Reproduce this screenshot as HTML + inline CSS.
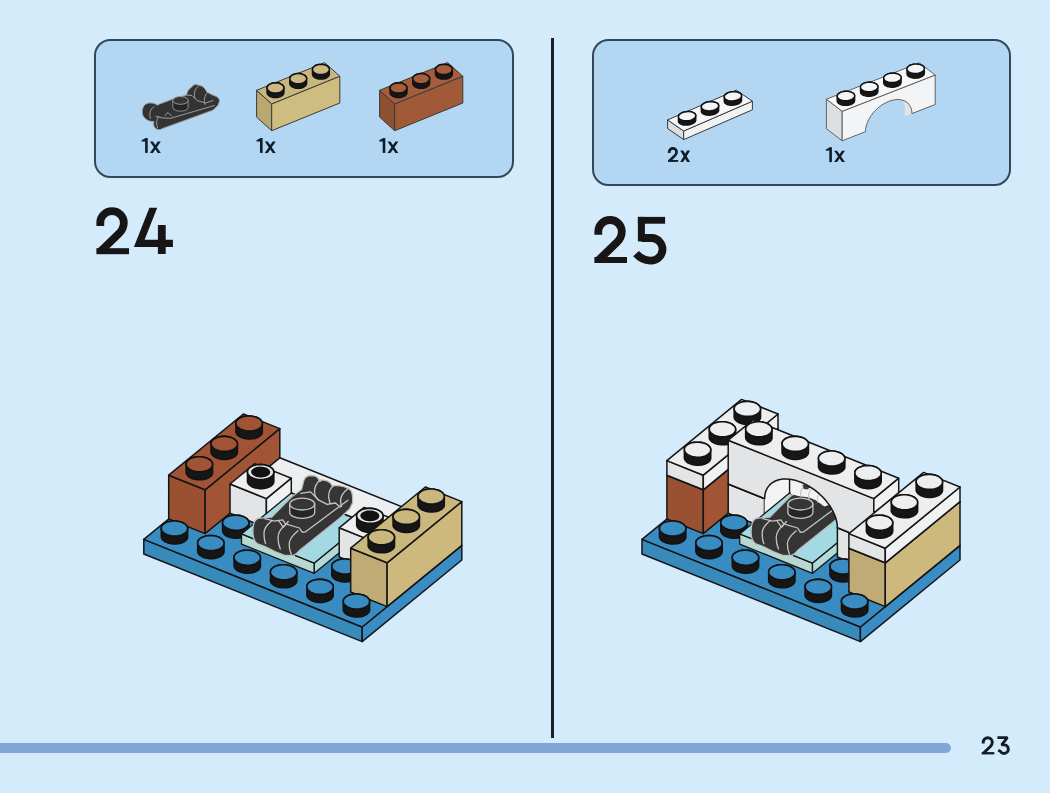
<!DOCTYPE html>
<html><head><meta charset="utf-8"><style>
html,body{margin:0;padding:0;}
body{width:1050px;height:793px;background:#d4ebfb;position:relative;overflow:hidden;font-family:"Liberation Sans",sans-serif;}
.panel{position:absolute;box-sizing:border-box;border:2.5px solid #33475a;border-radius:16.5px;background:#b3d6f2;}
.num{position:absolute;font-weight:bold;color:#1a1a1c;line-height:1;}
.q{position:absolute;font-weight:bold;color:#1c2530;font-size:17px;line-height:1;}
svg{position:absolute;left:0;top:0;}
</style></head><body>
<div class="panel" style="left:94px;top:38.5px;width:420px;height:139px"></div>
<div class="panel" style="left:591.5px;top:38.5px;width:419.5px;height:147.2px"></div>
<div style="position:absolute;left:551px;top:38px;width:2.5px;height:700px;background:#1b1f27"></div>
<div style="position:absolute;left:-10px;top:743px;width:961px;height:10px;border-radius:5px;background:#82a5d7"></div>
<svg width="1050" height="793" viewBox="0 0 1050 793">
<polygon points="256.6,117.1 271.7,130.7 271.7,103.9 256.6,90.3" fill="#b9a971" stroke="#3a3a3a" stroke-width="1.00" stroke-linejoin="round" />
<polygon points="271.7,130.7 339.8,103.0 339.8,76.2 271.7,103.9" fill="#cfbc80" stroke="#3a3a3a" stroke-width="1.00" stroke-linejoin="round" />
<polygon points="256.6,90.3 271.7,103.9 339.8,76.2 324.7,62.6" fill="#cab77f" stroke="#3a3a3a" stroke-width="1.00" stroke-linejoin="round" />
<polygon points="312.5,69.8 312.5,69.0 312.8,68.1 313.3,67.2 314.1,66.5 315.1,65.8 316.2,65.3 317.5,64.8 318.9,64.5 320.4,64.4 321.8,64.4 323.3,64.6 324.7,64.9 325.9,65.3 327.0,65.9 327.9,66.6 328.6,67.4 329.1,68.2 329.3,69.1 329.3,73.7 329.3,74.5 329.0,75.4 328.5,76.2 327.7,77.0 326.7,77.7 325.6,78.2 324.3,78.7 322.9,79.0 321.4,79.1 320.0,79.1 318.5,78.9 317.1,78.6 315.9,78.2 314.8,77.6 313.9,76.9 313.2,76.1 312.7,75.3 312.5,74.4" fill="#161616" stroke="#121212" stroke-width="1.50" stroke-linejoin="round" />
<polygon points="325.6,73.7 326.7,73.1 327.7,72.5 328.5,71.7 329.0,70.9 329.3,70.0 329.3,69.1 329.1,68.2 328.6,67.4 327.9,66.6 327.0,65.9 325.9,65.3 324.7,64.9 323.3,64.6 321.8,64.4 320.4,64.4 318.9,64.5 317.5,64.8 316.2,65.3 315.1,65.8 314.1,66.5 313.3,67.2 312.8,68.1 312.5,69.0 312.5,69.8 312.7,70.7 313.2,71.6 313.9,72.3 314.8,73.0 315.9,73.6 317.1,74.1 318.5,74.4 320.0,74.5 321.4,74.6 322.9,74.4 324.3,74.1" fill="#cdba82" stroke="#121212" stroke-width="1.50" stroke-linejoin="round" />
<polygon points="289.8,79.1 289.8,78.2 290.1,77.3 290.6,76.5 291.4,75.7 292.4,75.0 293.5,74.5 294.8,74.1 296.2,73.8 297.7,73.6 299.1,73.6 300.6,73.8 302.0,74.1 303.2,74.6 304.3,75.1 305.2,75.8 305.9,76.6 306.4,77.5 306.6,78.3 306.6,82.9 306.6,83.8 306.3,84.6 305.8,85.5 305.0,86.2 304.0,86.9 302.9,87.5 301.6,87.9 300.2,88.2 298.7,88.3 297.3,88.3 295.8,88.2 294.4,87.8 293.2,87.4 292.1,86.8 291.2,86.1 290.5,85.3 290.0,84.5 289.8,83.6" fill="#161616" stroke="#121212" stroke-width="1.50" stroke-linejoin="round" />
<polygon points="302.9,82.9 304.0,82.4 305.0,81.7 305.8,80.9 306.3,80.1 306.6,79.2 306.6,78.3 306.4,77.5 305.9,76.6 305.2,75.8 304.3,75.1 303.2,74.6 302.0,74.1 300.6,73.8 299.1,73.6 297.7,73.6 296.2,73.8 294.8,74.1 293.5,74.5 292.4,75.0 291.4,75.7 290.6,76.5 290.1,77.3 289.8,78.2 289.8,79.1 290.0,79.9 290.5,80.8 291.2,81.6 292.1,82.2 293.2,82.8 294.4,83.3 295.8,83.6 297.3,83.8 298.7,83.8 300.2,83.6 301.6,83.3" fill="#cdba82" stroke="#121212" stroke-width="1.50" stroke-linejoin="round" />
<polygon points="267.1,88.3 267.1,87.4 267.4,86.5 267.9,85.7 268.7,84.9 269.7,84.3 270.8,83.7 272.1,83.3 273.5,83.0 275.0,82.8 276.4,82.9 277.9,83.0 279.3,83.3 280.5,83.8 281.6,84.4 282.5,85.1 283.2,85.8 283.7,86.7 283.9,87.6 283.9,92.1 283.9,93.0 283.6,93.9 283.1,94.7 282.3,95.5 281.3,96.1 280.2,96.7 278.9,97.1 277.5,97.4 276.0,97.6 274.6,97.6 273.1,97.4 271.7,97.1 270.5,96.6 269.4,96.0 268.5,95.3 267.8,94.6 267.3,93.7 267.1,92.9" fill="#161616" stroke="#121212" stroke-width="1.50" stroke-linejoin="round" />
<polygon points="280.2,92.1 281.3,91.6 282.3,90.9 283.1,90.1 283.6,89.3 283.9,88.4 283.9,87.6 283.7,86.7 283.2,85.8 282.5,85.1 281.6,84.4 280.5,83.8 279.3,83.3 277.9,83.0 276.4,82.9 275.0,82.8 273.5,83.0 272.1,83.3 270.8,83.7 269.7,84.3 268.7,84.9 267.9,85.7 267.4,86.5 267.1,87.4 267.1,88.3 267.3,89.2 267.8,90.0 268.5,90.8 269.4,91.5 270.5,92.1 271.7,92.5 273.1,92.8 274.6,93.0 276.0,93.0 277.5,92.9 278.9,92.6" fill="#cdba82" stroke="#121212" stroke-width="1.50" stroke-linejoin="round" />
<polygon points="379.6,117.1 394.7,130.7 394.7,103.9 379.6,90.3" fill="#8f4f31" stroke="#3a3a3a" stroke-width="1.00" stroke-linejoin="round" />
<polygon points="394.7,130.7 462.8,103.0 462.8,76.2 394.7,103.9" fill="#a05a37" stroke="#3a3a3a" stroke-width="1.00" stroke-linejoin="round" />
<polygon points="379.6,90.3 394.7,103.9 462.8,76.2 447.7,62.6" fill="#a55d3b" stroke="#3a3a3a" stroke-width="1.00" stroke-linejoin="round" />
<polygon points="435.5,69.8 435.5,69.0 435.8,68.1 436.3,67.2 437.1,66.5 438.1,65.8 439.2,65.3 440.5,64.8 441.9,64.5 443.4,64.4 444.8,64.4 446.3,64.6 447.7,64.9 448.9,65.3 450.0,65.9 450.9,66.6 451.6,67.4 452.1,68.2 452.3,69.1 452.3,73.7 452.3,74.5 452.0,75.4 451.5,76.2 450.7,77.0 449.7,77.7 448.6,78.2 447.3,78.7 445.9,79.0 444.4,79.1 443.0,79.1 441.5,78.9 440.1,78.6 438.9,78.2 437.8,77.6 436.9,76.9 436.2,76.1 435.7,75.3 435.5,74.4" fill="#161616" stroke="#121212" stroke-width="1.50" stroke-linejoin="round" />
<polygon points="448.6,73.7 449.7,73.1 450.7,72.5 451.5,71.7 452.0,70.9 452.3,70.0 452.3,69.1 452.1,68.2 451.6,67.4 450.9,66.6 450.0,65.9 448.9,65.3 447.7,64.9 446.3,64.6 444.8,64.4 443.4,64.4 441.9,64.5 440.5,64.8 439.2,65.3 438.1,65.8 437.1,66.5 436.3,67.2 435.8,68.1 435.5,69.0 435.5,69.8 435.7,70.7 436.2,71.6 436.9,72.3 437.8,73.0 438.9,73.6 440.1,74.1 441.5,74.4 443.0,74.5 444.4,74.6 445.9,74.4 447.3,74.1" fill="#a55d3b" stroke="#121212" stroke-width="1.50" stroke-linejoin="round" />
<polygon points="412.8,79.1 412.8,78.2 413.1,77.3 413.6,76.5 414.4,75.7 415.4,75.0 416.5,74.5 417.8,74.1 419.2,73.8 420.7,73.6 422.1,73.6 423.6,73.8 425.0,74.1 426.2,74.6 427.3,75.1 428.2,75.8 428.9,76.6 429.4,77.5 429.6,78.3 429.6,82.9 429.6,83.8 429.3,84.6 428.8,85.5 428.0,86.2 427.0,86.9 425.9,87.5 424.6,87.9 423.2,88.2 421.7,88.3 420.3,88.3 418.8,88.2 417.4,87.8 416.2,87.4 415.1,86.8 414.2,86.1 413.5,85.3 413.0,84.5 412.8,83.6" fill="#161616" stroke="#121212" stroke-width="1.50" stroke-linejoin="round" />
<polygon points="425.9,82.9 427.0,82.4 428.0,81.7 428.8,80.9 429.3,80.1 429.6,79.2 429.6,78.3 429.4,77.5 428.9,76.6 428.2,75.8 427.3,75.1 426.2,74.6 425.0,74.1 423.6,73.8 422.1,73.6 420.7,73.6 419.2,73.8 417.8,74.1 416.5,74.5 415.4,75.0 414.4,75.7 413.6,76.5 413.1,77.3 412.8,78.2 412.8,79.1 413.0,79.9 413.5,80.8 414.2,81.6 415.1,82.2 416.2,82.8 417.4,83.3 418.8,83.6 420.3,83.8 421.7,83.8 423.2,83.6 424.6,83.3" fill="#a55d3b" stroke="#121212" stroke-width="1.50" stroke-linejoin="round" />
<polygon points="390.1,88.3 390.1,87.4 390.4,86.5 390.9,85.7 391.7,84.9 392.7,84.3 393.8,83.7 395.1,83.3 396.5,83.0 398.0,82.8 399.4,82.9 400.9,83.0 402.3,83.3 403.5,83.8 404.6,84.4 405.5,85.1 406.2,85.8 406.7,86.7 406.9,87.6 406.9,92.1 406.9,93.0 406.6,93.9 406.1,94.7 405.3,95.5 404.3,96.1 403.2,96.7 401.9,97.1 400.5,97.4 399.0,97.6 397.6,97.6 396.1,97.4 394.7,97.1 393.5,96.6 392.4,96.0 391.5,95.3 390.8,94.6 390.3,93.7 390.1,92.9" fill="#161616" stroke="#121212" stroke-width="1.50" stroke-linejoin="round" />
<polygon points="403.2,92.1 404.3,91.6 405.3,90.9 406.1,90.1 406.6,89.3 406.9,88.4 406.9,87.6 406.7,86.7 406.2,85.8 405.5,85.1 404.6,84.4 403.5,83.8 402.3,83.3 400.9,83.0 399.4,82.9 398.0,82.8 396.5,83.0 395.1,83.3 393.8,83.7 392.7,84.3 391.7,84.9 390.9,85.7 390.4,86.5 390.1,87.4 390.1,88.3 390.3,89.2 390.8,90.0 391.5,90.8 392.4,91.5 393.5,92.1 394.7,92.5 396.1,92.8 397.6,93.0 399.0,93.0 400.5,92.9 401.9,92.6" fill="#a55d3b" stroke="#121212" stroke-width="1.50" stroke-linejoin="round" />
<polygon points="667.6,128.5 683.7,139.6 683.7,131.0 667.6,119.9" fill="#dcdfe2" stroke="#3a3a3a" stroke-width="1.00" stroke-linejoin="round" />
<polygon points="683.7,139.6 752.4,109.8 752.4,101.2 683.7,131.0" fill="#f1f2f4" stroke="#3a3a3a" stroke-width="1.00" stroke-linejoin="round" />
<polygon points="667.6,119.9 683.7,131.0 752.4,101.2 736.3,90.1" fill="#f6f7f9" stroke="#3a3a3a" stroke-width="1.00" stroke-linejoin="round" />
<polygon points="724.3,96.5 724.5,95.7 725.0,94.9 725.8,94.1 726.8,93.5 727.9,92.9 729.2,92.4 730.6,92.0 732.1,91.8 733.6,91.7 735.1,91.8 736.6,91.9 737.9,92.3 739.0,92.7 740.0,93.2 740.8,93.9 741.3,94.6 741.5,95.4 741.5,96.2 741.5,100.5 741.3,101.3 740.8,102.1 740.0,102.8 739.0,103.5 737.9,104.1 736.6,104.5 735.2,104.9 733.7,105.1 732.2,105.2 730.7,105.2 729.2,105.0 727.9,104.7 726.8,104.3 725.8,103.7 725.0,103.1 724.5,102.3 724.3,101.6 724.3,100.8" fill="#161616" stroke="#121212" stroke-width="1.50" stroke-linejoin="round" />
<polygon points="737.9,99.8 739.0,99.2 740.0,98.5 740.8,97.8 741.3,97.0 741.5,96.2 741.5,95.4 741.3,94.6 740.8,93.9 740.0,93.2 739.0,92.7 737.9,92.3 736.6,91.9 735.1,91.8 733.6,91.7 732.1,91.8 730.6,92.0 729.2,92.4 727.9,92.9 726.8,93.5 725.8,94.1 725.0,94.9 724.5,95.7 724.3,96.5 724.3,97.3 724.5,98.0 725.0,98.8 725.8,99.4 726.8,100.0 727.9,100.4 729.2,100.7 730.7,100.9 732.2,100.9 733.7,100.8 735.2,100.6 736.6,100.2" fill="#f4f5f7" stroke="#121212" stroke-width="1.50" stroke-linejoin="round" />
<polygon points="701.4,106.4 701.6,105.6 702.1,104.8 702.9,104.1 703.9,103.4 705.0,102.8 706.3,102.3 707.7,102.0 709.2,101.7 710.7,101.6 712.2,101.7 713.7,101.9 715.0,102.2 716.1,102.6 717.1,103.2 717.9,103.8 718.4,104.5 718.6,105.3 718.6,106.1 718.6,110.4 718.4,111.2 717.9,112.0 717.1,112.7 716.1,113.4 715.0,114.0 713.7,114.5 712.3,114.8 710.8,115.1 709.3,115.2 707.8,115.1 706.3,114.9 705.0,114.6 703.9,114.2 702.9,113.6 702.1,113.0 701.6,112.3 701.4,111.5 701.4,110.7" fill="#161616" stroke="#121212" stroke-width="1.50" stroke-linejoin="round" />
<polygon points="715.0,109.7 716.1,109.1 717.1,108.4 717.9,107.7 718.4,106.9 718.6,106.1 718.6,105.3 718.4,104.5 717.9,103.8 717.1,103.2 716.1,102.6 715.0,102.2 713.7,101.9 712.2,101.7 710.7,101.6 709.2,101.7 707.7,102.0 706.3,102.3 705.0,102.8 703.9,103.4 702.9,104.1 702.1,104.8 701.6,105.6 701.4,106.4 701.4,107.2 701.6,108.0 702.1,108.7 702.9,109.3 703.9,109.9 705.0,110.3 706.3,110.6 707.8,110.8 709.3,110.9 710.8,110.8 712.3,110.5 713.7,110.2" fill="#f4f5f7" stroke="#121212" stroke-width="1.50" stroke-linejoin="round" />
<polygon points="678.5,116.3 678.7,115.5 679.2,114.7 680.0,114.0 681.0,113.3 682.1,112.7 683.4,112.3 684.8,111.9 686.3,111.7 687.8,111.6 689.3,111.6 690.8,111.8 692.1,112.1 693.2,112.6 694.2,113.1 695.0,113.8 695.5,114.5 695.7,115.2 695.7,116.0 695.7,120.3 695.5,121.1 695.0,121.9 694.2,122.7 693.2,123.3 692.1,123.9 690.8,124.4 689.4,124.8 687.9,125.0 686.4,125.1 684.9,125.1 683.4,124.9 682.1,124.6 681.0,124.1 680.0,123.6 679.2,122.9 678.7,122.2 678.5,121.4 678.5,120.6" fill="#161616" stroke="#121212" stroke-width="1.50" stroke-linejoin="round" />
<polygon points="692.1,119.6 693.2,119.0 694.2,118.4 695.0,117.6 695.5,116.8 695.7,116.0 695.7,115.2 695.5,114.5 695.0,113.8 694.2,113.1 693.2,112.6 692.1,112.1 690.8,111.8 689.3,111.6 687.8,111.6 686.3,111.7 684.8,111.9 683.4,112.3 682.1,112.7 681.0,113.3 680.0,114.0 679.2,114.7 678.7,115.5 678.5,116.3 678.5,117.1 678.7,117.9 679.2,118.6 680.0,119.3 681.0,119.8 682.1,120.3 683.4,120.6 684.9,120.8 686.4,120.8 687.9,120.7 689.4,120.5 690.8,120.1" fill="#f4f5f7" stroke="#121212" stroke-width="1.50" stroke-linejoin="round" />
<path d="M142.3,112 C142.3,106.5 145,103.2 150,102.9 C153.5,102.9 156,104 157.5,105.3 L159,104.3 L172,99.4 L186.6,95 C187,92 188.5,89.5 190.6,88.1 C192.5,85.5 194.5,84.5 196.3,84.5 L202.8,86.5 C204.5,88 205.8,90 206.8,92.1 L210.9,94.2 L217.3,97 C219,98.5 219.6,100 219.4,101 L218.1,105.1 L213.3,110 L162.3,128.6 C160.5,130 157.5,130 155.5,128.3 C153.5,126.5 153.3,124 154,121.5 L150.5,121.2 C146,120 142.3,117 142.3,112 Z" fill="#333334" stroke="#9a9a9a" stroke-width="0.9" stroke-linejoin="round"/>
<path d="M154,106.7 C150,109 149,114 150.3,118.3" fill="none" stroke="#a8a8a8" stroke-width="0.9" stroke-linecap="round"/>
<path d="M158.7,116.5 C156.5,118.5 156,124 157.7,127.7" fill="none" stroke="#a8a8a8" stroke-width="0.9" stroke-linecap="round"/>
<path d="M156,116.5 L163,118 L170.5,118.3 L214.5,105.5" fill="none" stroke="#a8a8a8" stroke-width="0.9" stroke-linecap="round"/>
<path d="M165,115.5 L168,112.5 L171.5,116" fill="none" stroke="#a8a8a8" stroke-width="0.9" stroke-linecap="round"/>
<path d="M198,86.5 C194.5,89 193.5,94 195,98.5" fill="none" stroke="#a8a8a8" stroke-width="0.9" stroke-linecap="round"/>
<path d="M207.5,92.6 C204.5,95.5 203.5,100 205,104.5" fill="none" stroke="#a8a8a8" stroke-width="0.9" stroke-linecap="round"/>
<path d="M186.6,95 L192,95.5 L197,100.5 L205.5,103 L213,100.5" fill="none" stroke="#a8a8a8" stroke-width="0.9" stroke-linecap="round"/>
<path d="M172.8,100.4 L172.8,107.3 A7.7,3.9 0 0 0 188.2,107.3 L188.2,100.4 Z" fill="#262627" stroke="#9a9a9a" stroke-width="0.9"/>
<ellipse cx="180.5" cy="100.4" rx="7.7" ry="3.9" fill="#353536" stroke="#a0a0a0" stroke-width="0.9"/>
<defs><clipPath id="archclip"><polygon points="865.4,131.7 865.6,129.5 866.0,127.1 866.6,124.7 867.5,122.3 868.6,119.9 869.9,117.5 871.4,115.2 873.1,112.9 875.0,110.8 877.1,108.8 879.2,106.9 881.5,105.2 883.9,103.8 886.3,102.5 888.7,101.4 891.1,100.6 893.5,100.0 895.9,99.6 898.2,99.5 900.3,99.7 902.4,100.1 904.3,100.8 906.0,101.7 907.5,102.8 908.8,104.2 909.9,105.7 910.8,107.4 911.4,109.3 911.8,111.4 911.9,113.6"/></clipPath></defs>
<polygon points="865.4,131.7 865.6,129.5 866.0,127.1 866.6,124.7 867.5,122.3 868.6,119.9 869.9,117.5 871.4,115.2 873.1,112.9 875.0,110.8 877.1,108.8 879.2,106.9 881.5,105.2 883.9,103.8 886.3,102.5 888.7,101.4 891.1,100.6 893.5,100.0 895.9,99.6 898.2,99.5 900.3,99.7 902.4,100.1 904.3,100.8 906.0,101.7 907.5,102.8 908.8,104.2 909.9,105.7 910.8,107.4 911.4,109.3 911.8,111.4 911.9,113.6" fill="#e4e4e4" clip-path="url(#archclip)"/>
<polygon points="858.3,126.3 858.5,124.0 858.8,121.7 859.5,119.3 860.4,116.9 861.5,114.4 862.8,112.1 864.3,109.7 866.0,107.5 867.9,105.3 870.0,103.3 872.1,101.5 874.4,99.8 876.8,98.3 879.2,97.0 881.6,96.0 884.0,95.1 886.4,94.5 888.8,94.2 891.0,94.1 893.2,94.3 895.3,94.7 897.1,95.3 898.9,96.2 900.4,97.4 901.7,98.7 902.8,100.3 903.7,102.0 904.3,103.9 904.7,105.9 904.8,108.1 904.8,167.1 858.3,185.3" fill="#b3d6f2" clip-path="url(#archclip)"/>
<polygon points="826.4,128.7 842.2,140.8 842.2,111.3 826.4,99.2" fill="#dcdfe2" stroke="#555" stroke-width="0.90" stroke-linejoin="round" />
<polygon points="842.2,140.8 865.4,131.7 865.4,131.7 865.6,129.5 866.0,127.1 866.6,124.7 867.5,122.3 868.6,119.9 869.9,117.5 871.4,115.2 873.1,112.9 875.0,110.8 877.1,108.8 879.2,106.9 881.5,105.2 883.9,103.8 886.3,102.5 888.7,101.4 891.1,100.6 893.5,100.0 895.9,99.6 898.2,99.5 900.3,99.7 902.4,100.1 904.3,100.8 906.0,101.7 907.5,102.8 908.8,104.2 909.9,105.7 910.8,107.4 911.4,109.3 911.8,111.4 911.9,113.6 911.9,113.6 935.2,104.5 935.2,75.0 842.2,111.3" fill="#f3f4f6" stroke="#555" stroke-width="0.90" stroke-linejoin="round" />
<polygon points="826.4,99.2 842.2,111.3 935.2,75.0 919.4,62.9" fill="#f6f7f9" stroke="#555" stroke-width="0.90" stroke-linejoin="round" />
<polygon points="907.0,69.3 907.0,68.5 907.3,67.7 907.8,66.9 908.6,66.2 909.6,65.5 910.8,65.0 912.1,64.6 913.5,64.3 915.0,64.1 916.6,64.1 918.0,64.2 919.5,64.4 920.8,64.8 921.9,65.3 922.9,65.9 923.6,66.6 924.1,67.4 924.4,68.2 924.4,72.9 924.3,73.7 924.1,74.5 923.5,75.3 922.7,76.0 921.8,76.7 920.6,77.2 919.2,77.7 917.8,78.0 916.3,78.1 914.8,78.2 913.3,78.0 911.9,77.8 910.6,77.4 909.4,76.9 908.5,76.3 907.7,75.6 907.2,74.8 907.0,74.0" fill="#161616" stroke="#121212" stroke-width="1.40" stroke-linejoin="round" />
<polygon points="920.6,72.5 921.8,72.0 922.7,71.3 923.5,70.6 924.1,69.8 924.3,69.0 924.4,68.2 924.1,67.4 923.6,66.6 922.9,65.9 921.9,65.3 920.8,64.8 919.5,64.4 918.0,64.2 916.6,64.1 915.0,64.1 913.5,64.3 912.1,64.6 910.8,65.0 909.6,65.5 908.6,66.2 907.8,66.9 907.3,67.7 907.0,68.5 907.0,69.3 907.2,70.1 907.7,70.9 908.5,71.6 909.4,72.2 910.6,72.7 911.9,73.1 913.3,73.3 914.8,73.4 916.3,73.4 917.8,73.2 919.2,72.9" fill="#f4f5f7" stroke="#121212" stroke-width="1.40" stroke-linejoin="round" />
<polygon points="883.7,78.4 883.8,77.6 884.0,76.8 884.6,76.0 885.4,75.3 886.3,74.6 887.5,74.1 888.9,73.6 890.3,73.3 891.8,73.2 893.3,73.1 894.8,73.3 896.2,73.5 897.5,73.9 898.7,74.4 899.6,75.0 900.4,75.7 900.9,76.5 901.1,77.3 901.1,82.0 901.1,82.8 900.8,83.6 900.3,84.4 899.5,85.1 898.5,85.8 897.3,86.3 896.0,86.7 894.6,87.0 893.1,87.2 891.5,87.2 890.1,87.1 888.6,86.9 887.3,86.5 886.2,86.0 885.2,85.4 884.5,84.7 884.0,83.9 883.7,83.1" fill="#161616" stroke="#121212" stroke-width="1.40" stroke-linejoin="round" />
<polygon points="897.3,81.6 898.5,81.0 899.5,80.4 900.3,79.7 900.8,78.9 901.1,78.1 901.1,77.3 900.9,76.5 900.4,75.7 899.6,75.0 898.7,74.4 897.5,73.9 896.2,73.5 894.8,73.3 893.3,73.1 891.8,73.2 890.3,73.3 888.9,73.6 887.5,74.1 886.3,74.6 885.4,75.3 884.6,76.0 884.0,76.8 883.8,77.6 883.7,78.4 884.0,79.2 884.5,80.0 885.2,80.6 886.2,81.3 887.3,81.8 888.6,82.1 890.1,82.4 891.5,82.5 893.1,82.5 894.6,82.3 896.0,82.0" fill="#f4f5f7" stroke="#121212" stroke-width="1.40" stroke-linejoin="round" />
<polygon points="860.5,87.5 860.5,86.7 860.8,85.8 861.3,85.1 862.1,84.3 863.1,83.7 864.3,83.2 865.6,82.7 867.0,82.4 868.5,82.3 870.1,82.2 871.5,82.3 873.0,82.6 874.3,83.0 875.4,83.5 876.4,84.1 877.1,84.8 877.6,85.5 877.9,86.3 877.9,91.1 877.8,91.9 877.6,92.7 877.0,93.5 876.2,94.2 875.3,94.8 874.1,95.4 872.7,95.8 871.3,96.1 869.8,96.3 868.3,96.3 866.8,96.2 865.4,95.9 864.1,95.6 862.9,95.1 862.0,94.4 861.2,93.8 860.7,93.0 860.5,92.2" fill="#161616" stroke="#121212" stroke-width="1.40" stroke-linejoin="round" />
<polygon points="874.1,90.7 875.3,90.1 876.2,89.5 877.0,88.8 877.6,88.0 877.8,87.2 877.9,86.3 877.6,85.5 877.1,84.8 876.4,84.1 875.4,83.5 874.3,83.0 873.0,82.6 871.5,82.3 870.1,82.2 868.5,82.3 867.0,82.4 865.6,82.7 864.3,83.2 863.1,83.7 862.1,84.3 861.3,85.1 860.8,85.8 860.5,86.7 860.5,87.5 860.7,88.3 861.2,89.0 862.0,89.7 862.9,90.3 864.1,90.8 865.4,91.2 866.8,91.5 868.3,91.6 869.8,91.6 871.3,91.4 872.7,91.1" fill="#f4f5f7" stroke="#121212" stroke-width="1.40" stroke-linejoin="round" />
<polygon points="837.2,96.6 837.3,95.7 837.5,94.9 838.1,94.1 838.9,93.4 839.8,92.8 841.0,92.2 842.4,91.8 843.8,91.5 845.3,91.3 846.8,91.3 848.3,91.4 849.7,91.7 851.0,92.1 852.2,92.6 853.1,93.2 853.9,93.9 854.4,94.6 854.6,95.4 854.6,100.1 854.6,101.0 854.3,101.8 853.8,102.6 853.0,103.3 852.0,103.9 850.8,104.5 849.5,104.9 848.1,105.2 846.6,105.4 845.0,105.4 843.6,105.3 842.1,105.0 840.8,104.6 839.7,104.1 838.7,103.5 838.0,102.8 837.5,102.1 837.2,101.3" fill="#161616" stroke="#121212" stroke-width="1.40" stroke-linejoin="round" />
<polygon points="850.8,99.7 852.0,99.2 853.0,98.6 853.8,97.8 854.3,97.1 854.6,96.2 854.6,95.4 854.4,94.6 853.9,93.9 853.1,93.2 852.2,92.6 851.0,92.1 849.7,91.7 848.3,91.4 846.8,91.3 845.3,91.3 843.8,91.5 842.4,91.8 841.0,92.2 839.8,92.8 838.9,93.4 838.1,94.1 837.5,94.9 837.3,95.7 837.2,96.6 837.5,97.4 838.0,98.1 838.7,98.8 839.7,99.4 840.8,99.9 842.1,100.3 843.6,100.6 845.0,100.7 846.6,100.6 848.1,100.5 849.5,100.2" fill="#f4f5f7" stroke="#121212" stroke-width="1.40" stroke-linejoin="round" />
<g transform="translate(96.40,207.30) scale(1.0000) translate(-96.4,-207.3)"><path d="M100.3,225.9 L100.3,222.7 A11.75,11.5 0 0 1 123.8,222.7 C123.8,227 122,230.5 119,233.5 L100.6,251.2" fill="none" stroke="#171516" stroke-width="7.80"/><rect x="96.4" y="248.2" width="32.6" height="6" fill="#171516"/></g><polygon points="149.4,207.8 157.2,207.8 144.6,239.8 157.9,239.8 157.9,225.1 165.7,225.1 165.7,239.8 172.9,239.8 172.9,247 165.7,247 165.7,253.9 157.9,253.9 157.9,247 133.9,247" fill="#171516"/><g transform="translate(594.40,216.10) scale(1.0000) translate(-96.4,-207.3)"><path d="M100.3,225.9 L100.3,222.7 A11.75,11.5 0 0 1 123.8,222.7 C123.8,227 122,230.5 119,233.5 L100.6,251.2" fill="none" stroke="#171516" stroke-width="7.80"/><rect x="96.4" y="248.2" width="32.6" height="6" fill="#171516"/></g><rect x="637.9" y="216.9" width="27.2" height="6.8" fill="#171516"/><rect x="637.9" y="216.9" width="7" height="24.5" fill="#171516"/><path d="M641.4,238 L652.25,238 A11.35,11.35 0 1 1 650,260.6 C645,260.4 640,258 636,253.6" fill="none" stroke="#171516" stroke-width="7.8"/><g transform="translate(981.70,736.30) scale(0.3860) translate(-96.4,-207.3)"><path d="M100.3,225.9 L100.3,222.7 A11.75,11.5 0 0 1 123.8,222.7 C123.8,227 122,230.5 119,233.5 L100.6,251.2" fill="none" stroke="#121b26" stroke-width="7.60"/><rect x="96.4" y="248.2" width="32.6" height="6" fill="#121b26"/></g><path d="M997.4,737.7 L1007.4,737.7 L1001.6,744.8 L1004,744.8 A4.3,4.3 0 1 1 1000.3,751.25 L998.2,750.2" fill="none" stroke="#121b26" stroke-width="2.8" stroke-linejoin="bevel"/>
<g transform="translate(0.0,0.0)"><rect x="145.1" y="138.2" width="2.6" height="14.7" fill="#0f1c2a"/><polygon points="145.3,138.2 147.7,138.2 145.6,141.4 141.6,141.6 141.6,140.3" fill="#0f1c2a"/><polygon points="149.9,141.6 152.9,141.6 160.8,152.9 157.8,152.9" fill="#0f1c2a"/><polygon points="157.8,141.6 160.8,141.6 152.9,152.9 149.9,152.9" fill="#0f1c2a"/></g><g transform="translate(114.9,0.0)"><rect x="145.1" y="138.2" width="2.6" height="14.7" fill="#0f1c2a"/><polygon points="145.3,138.2 147.7,138.2 145.6,141.4 141.6,141.6 141.6,140.3" fill="#0f1c2a"/><polygon points="149.9,141.6 152.9,141.6 160.8,152.9 157.8,152.9" fill="#0f1c2a"/><polygon points="157.8,141.6 160.8,141.6 152.9,152.9 149.9,152.9" fill="#0f1c2a"/></g><g transform="translate(237.6,0.0)"><rect x="145.1" y="138.2" width="2.6" height="14.7" fill="#0f1c2a"/><polygon points="145.3,138.2 147.7,138.2 145.6,141.4 141.6,141.6 141.6,140.3" fill="#0f1c2a"/><polygon points="149.9,141.6 152.9,141.6 160.8,152.9 157.8,152.9" fill="#0f1c2a"/><polygon points="157.8,141.6 160.8,141.6 152.9,152.9 149.9,152.9" fill="#0f1c2a"/></g><g transform="translate(684.2,9.2)"><rect x="145.1" y="138.2" width="2.6" height="14.7" fill="#0f1c2a"/><polygon points="145.3,138.2 147.7,138.2 145.6,141.4 141.6,141.6 141.6,140.3" fill="#0f1c2a"/><polygon points="149.9,141.6 152.9,141.6 160.8,152.9 157.8,152.9" fill="#0f1c2a"/><polygon points="157.8,141.6 160.8,141.6 152.9,152.9 149.9,152.9" fill="#0f1c2a"/></g><g transform="translate(668.00,147.20) scale(0.3130) translate(-96.4,-207.3)"><path d="M100.3,225.9 L100.3,222.7 A11.75,11.5 0 0 1 123.8,222.7 C123.8,227 122,230.5 119,233.5 L100.6,251.2" fill="none" stroke="#0f1c2a" stroke-width="8.60"/><rect x="96.4" y="248.2" width="32.6" height="6" fill="#0f1c2a"/></g><polygon points="680.2,150.5 683.2,150.5 690.1,161.9 687.1,161.9" fill="#0f1c2a"/><polygon points="687.1,150.5 690.1,150.5 683.2,161.9 680.2,161.9" fill="#0f1c2a"/>
<polygon points="143.8,554.0 362.2,641.6 362.2,627.0 143.8,539.4" fill="#378ab9" stroke="#151515" stroke-width="1.50" stroke-linejoin="round" />
<polygon points="362.2,641.6 461.8,560.0 461.8,545.4 362.2,627.0" fill="#3a8dc4" stroke="#151515" stroke-width="1.50" stroke-linejoin="round" />
<polygon points="143.8,539.4 362.2,627.0 461.8,545.4 243.4,457.8" fill="#398cc2" stroke="#151515" stroke-width="1.50" stroke-linejoin="round" />
<polygon points="168.7,519.0 205.1,533.6 205.1,489.8 168.7,475.2" fill="#9a5131" stroke="#151515" stroke-width="1.50" stroke-linejoin="round" />
<polygon points="205.1,533.6 279.8,472.4 279.8,428.6 205.1,489.8" fill="#a25535" stroke="#151515" stroke-width="1.50" stroke-linejoin="round" />
<polygon points="168.7,475.2 205.1,489.8 279.8,428.6 243.4,414.0" fill="#a05435" stroke="#151515" stroke-width="1.50" stroke-linejoin="round" />
<polygon points="236.0,422.7 236.3,421.4 237.1,420.2 238.2,419.1 239.7,418.1 241.4,417.3 243.4,416.6 245.6,416.2 247.9,416.0 250.2,416.0 252.4,416.2 254.6,416.7 256.6,417.3 258.4,418.2 259.9,419.2 261.1,420.4 261.9,421.6 262.3,422.9 262.3,424.2 262.3,432.2 262.0,433.5 261.2,434.8 260.1,435.9 258.6,436.9 256.9,437.7 254.9,438.4 252.7,438.8 250.4,439.0 248.1,439.0 245.9,438.7 243.7,438.3 241.7,437.6 239.9,436.8 238.4,435.8 237.2,434.6 236.4,433.4 236.0,432.1 236.0,430.8" fill="#161616" stroke="#121212" stroke-width="1.60" stroke-linejoin="round" />
<polygon points="260.1,427.8 261.2,426.7 262.0,425.5 262.3,424.2 262.3,422.9 261.9,421.6 261.1,420.4 259.9,419.2 258.4,418.2 256.6,417.3 254.6,416.7 252.4,416.2 250.2,416.0 247.9,416.0 245.6,416.2 243.4,416.6 241.4,417.3 239.7,418.1 238.2,419.1 237.1,420.2 236.3,421.4 236.0,422.7 236.0,424.0 236.4,425.3 237.2,426.6 238.4,427.7 239.9,428.7 241.7,429.6 243.7,430.3 245.9,430.7 248.1,431.0 250.4,431.0 252.7,430.8 254.9,430.3 256.9,429.7 258.6,428.8" fill="#a05435" stroke="#121212" stroke-width="1.60" stroke-linejoin="round" />
<polygon points="211.1,443.1 211.4,441.8 212.2,440.6 213.3,439.5 214.8,438.5 216.5,437.7 218.5,437.0 220.7,436.6 223.0,436.4 225.3,436.4 227.5,436.6 229.7,437.1 231.7,437.7 233.5,438.6 235.0,439.6 236.2,440.8 237.0,442.0 237.4,443.3 237.4,444.6 237.4,452.6 237.1,453.9 236.3,455.2 235.2,456.3 233.7,457.3 232.0,458.1 230.0,458.8 227.8,459.2 225.5,459.4 223.2,459.4 221.0,459.1 218.8,458.7 216.8,458.0 215.0,457.2 213.5,456.2 212.3,455.0 211.5,453.8 211.1,452.5 211.1,451.2" fill="#161616" stroke="#121212" stroke-width="1.60" stroke-linejoin="round" />
<polygon points="235.2,448.2 236.3,447.1 237.1,445.9 237.4,444.6 237.4,443.3 237.0,442.0 236.2,440.8 235.0,439.6 233.5,438.6 231.7,437.7 229.7,437.1 227.5,436.6 225.3,436.4 223.0,436.4 220.7,436.6 218.5,437.0 216.5,437.7 214.8,438.5 213.3,439.5 212.2,440.6 211.4,441.8 211.1,443.1 211.1,444.4 211.5,445.7 212.3,447.0 213.5,448.1 215.0,449.1 216.8,450.0 218.8,450.7 221.0,451.1 223.2,451.4 225.5,451.4 227.8,451.2 230.0,450.7 232.0,450.1 233.7,449.2" fill="#a05435" stroke="#121212" stroke-width="1.60" stroke-linejoin="round" />
<polygon points="186.2,463.5 186.5,462.2 187.3,461.0 188.4,459.9 189.9,458.9 191.6,458.1 193.6,457.4 195.8,457.0 198.1,456.8 200.4,456.8 202.6,457.0 204.8,457.5 206.8,458.1 208.6,459.0 210.1,460.0 211.3,461.2 212.1,462.4 212.5,463.7 212.5,465.0 212.5,473.0 212.2,474.3 211.4,475.6 210.3,476.7 208.8,477.7 207.1,478.5 205.1,479.2 202.9,479.6 200.6,479.8 198.3,479.8 196.1,479.5 193.9,479.1 191.9,478.4 190.1,477.6 188.6,476.6 187.4,475.4 186.6,474.2 186.2,472.9 186.2,471.6" fill="#161616" stroke="#121212" stroke-width="1.60" stroke-linejoin="round" />
<polygon points="210.3,468.6 211.4,467.5 212.2,466.3 212.5,465.0 212.5,463.7 212.1,462.4 211.3,461.2 210.1,460.0 208.6,459.0 206.8,458.1 204.8,457.5 202.6,457.0 200.4,456.8 198.1,456.8 195.8,457.0 193.6,457.4 191.6,458.1 189.9,458.9 188.4,459.9 187.3,461.0 186.5,462.2 186.2,463.5 186.2,464.8 186.6,466.1 187.4,467.4 188.6,468.5 190.1,469.5 191.9,470.4 193.9,471.1 196.1,471.5 198.3,471.8 200.6,471.8 202.9,471.6 205.1,471.1 207.1,470.5 208.8,469.6" fill="#a05435" stroke="#121212" stroke-width="1.60" stroke-linejoin="round" />
<polygon points="254.9,492.8 400.5,551.2 400.5,536.6 254.9,478.2" fill="#e3e4e6" stroke="#151515" stroke-width="1.50" stroke-linejoin="round" />
<polygon points="400.5,551.2 425.4,530.8 425.4,516.2 400.5,536.6" fill="#f0f1f3" stroke="#151515" stroke-width="1.50" stroke-linejoin="round" />
<polygon points="254.9,478.2 400.5,536.6 425.4,516.2 279.8,457.8" fill="#edeef0" stroke="#151515" stroke-width="1.50" stroke-linejoin="round" />
<polygon points="230.0,513.2 266.4,527.8 266.4,498.6 230.0,484.0" fill="#e3e4e6" stroke="#151515" stroke-width="1.50" stroke-linejoin="round" />
<polygon points="266.4,527.8 291.3,507.4 291.3,478.2 266.4,498.6" fill="#f0f1f3" stroke="#151515" stroke-width="1.50" stroke-linejoin="round" />
<polygon points="230.0,484.0 266.4,498.6 291.3,478.2 254.9,463.6" fill="#edeef0" stroke="#151515" stroke-width="1.50" stroke-linejoin="round" />
<polygon points="247.5,471.3 247.8,470.0 248.6,468.8 249.7,467.7 251.2,466.7 252.9,465.8 254.9,465.2 257.1,464.8 259.4,464.5 261.7,464.6 263.9,464.8 266.1,465.3 268.1,465.9 269.9,466.8 271.4,467.8 272.6,468.9 273.4,470.2 273.8,471.5 273.8,472.8 273.8,481.8 273.5,483.1 272.7,484.4 271.6,485.5 270.1,486.5 268.4,487.3 266.4,488.0 264.2,488.4 261.9,488.6 259.6,488.6 257.4,488.3 255.2,487.9 253.2,487.2 251.4,486.4 249.9,485.4 248.7,484.2 247.9,483.0 247.5,481.7 247.5,480.4" fill="#161616" stroke="#121212" stroke-width="1.60" stroke-linejoin="round" />
<polygon points="271.6,476.4 272.7,475.3 273.5,474.1 273.8,472.8 273.8,471.5 273.4,470.2 272.6,468.9 271.4,467.8 269.9,466.8 268.1,465.9 266.1,465.3 263.9,464.8 261.7,464.6 259.4,464.5 257.1,464.8 254.9,465.2 252.9,465.8 251.2,466.7 249.7,467.7 248.6,468.8 247.8,470.0 247.5,471.3 247.5,472.6 247.9,473.9 248.7,475.2 249.9,476.3 251.4,477.3 253.2,478.2 255.2,478.8 257.4,479.3 259.6,479.5 261.9,479.6 264.2,479.3 266.4,478.9 268.4,478.3 270.1,477.4" fill="#e6e6e6" stroke="#121212" stroke-width="1.60" stroke-linejoin="round" />
<polygon points="268.5,475.2 269.3,474.4 269.9,473.5 270.1,472.6 270.1,471.6 269.8,470.7 269.2,469.8 268.4,469.0 267.3,468.3 266.0,467.6 264.6,467.2 263.0,466.8 261.4,466.7 259.7,466.6 258.1,466.8 256.5,467.1 255.1,467.6 253.8,468.2 252.8,468.9 252.0,469.7 251.4,470.6 251.2,471.5 251.2,472.5 251.5,473.4 252.1,474.3 252.9,475.1 254.0,475.8 255.3,476.5 256.7,476.9 258.3,477.3 259.9,477.4 261.6,477.5 263.2,477.3 264.8,477.0 266.2,476.5 267.5,475.9" fill="#121212" stroke="none" stroke-width="0.00" stroke-linejoin="round" />
<polygon points="222.6,521.9 222.9,520.6 223.7,519.4 224.8,518.3 226.3,517.3 228.0,516.5 230.0,515.8 232.2,515.4 234.5,515.2 236.8,515.2 239.0,515.4 241.2,515.9 243.2,516.5 245.0,517.4 246.5,518.4 247.7,519.6 248.5,520.8 248.9,522.1 248.9,523.4 248.9,531.4 248.6,532.7 247.8,534.0 246.7,535.1 245.2,536.1 243.5,536.9 241.5,537.6 239.3,538.0 237.0,538.2 234.7,538.2 232.5,537.9 230.3,537.5 228.3,536.8 226.5,536.0 225.0,535.0 223.8,533.8 223.0,532.6 222.6,531.3 222.6,530.0" fill="#161616" stroke="#121212" stroke-width="1.60" stroke-linejoin="round" />
<polygon points="246.7,527.0 247.8,525.9 248.6,524.7 248.9,523.4 248.9,522.1 248.5,520.8 247.7,519.6 246.5,518.4 245.0,517.4 243.2,516.5 241.2,515.9 239.0,515.4 236.8,515.2 234.5,515.2 232.2,515.4 230.0,515.8 228.0,516.5 226.3,517.3 224.8,518.3 223.7,519.4 222.9,520.6 222.6,521.9 222.6,523.2 223.0,524.5 223.8,525.8 225.0,526.9 226.5,527.9 228.3,528.8 230.3,529.5 232.5,529.9 234.7,530.2 237.0,530.2 239.3,530.0 241.5,529.5 243.5,528.9 245.2,528.0" fill="#398cc2" stroke="#121212" stroke-width="1.60" stroke-linejoin="round" />
<polygon points="241.5,544.1 314.3,573.3 314.3,563.1 241.5,533.9" fill="#b6d8d0" stroke="#151515" stroke-width="1.30" stroke-linejoin="round" />
<polygon points="314.3,573.3 364.1,532.5 364.1,522.3 314.3,563.1" fill="#b2dbd8" stroke="#151515" stroke-width="1.30" stroke-linejoin="round" />
<polygon points="241.5,533.9 314.3,563.1 364.1,522.3 291.3,493.1" fill="#a2d9e2" stroke="#151515" stroke-width="1.30" stroke-linejoin="round" />
<g transform="translate(0.0,0)">
<path d="M253,534 C252.5,526 254,520 258,518.3 L266,517.6 L271.5,517.2 L291.5,497 L301.5,489.5 L303,484 C303.5,479 306,476 310,475.5 L315,476 C317.5,477 319,479 319.8,481.5 L321.5,480.2 C324.5,479.8 328,480.8 330.5,483 L332.5,486.3 L334.8,485.6 C340,485.5 347,487 350.5,490 C352.5,492.5 353,497 352.5,503 L349.5,509 L340,518 L300,550 C297,553.5 295,555.5 292.4,555.7 L285,555.5 L275,551.5 L265,546.5 L257,543.5 C254.5,541.5 253.2,538.5 253,534 Z" fill="#353535" stroke="#bdbdbd" stroke-width="1.3" stroke-linejoin="round"/>
<path d="M271.6,521 C266.5,525 264,529 264,533 C264,538 264.5,541 265.6,543.6" fill="none" stroke="#c4c4c4" stroke-width="1.3" stroke-linecap="round" stroke-linejoin="round"/>
<path d="M284.8,525.2 C280.5,529 278,533 278,537.7 C278,542.5 279,546 280.3,549" fill="none" stroke="#c4c4c4" stroke-width="1.3" stroke-linecap="round" stroke-linejoin="round"/>
<path d="M298,530.8 C293,535 289.5,539 289.2,543.5 C289,548 290,551.5 291.3,554.6" fill="none" stroke="#c4c4c4" stroke-width="1.3" stroke-linecap="round" stroke-linejoin="round"/>
<path d="M264.7,518.6 L274.4,521.2 L282.7,519.9 L285.5,523.8 L299.4,528 L302.2,532.2" fill="none" stroke="#c4c4c4" stroke-width="1.3" stroke-linecap="round" stroke-linejoin="round"/>
<path d="M278.6,520.5 L283.2,527.2 L288.3,521.5" fill="none" stroke="#c4c4c4" stroke-width="1.3" stroke-linecap="round" stroke-linejoin="round"/>
<path d="M302.2,532.2 L304.9,532.2 L347.9,500.2" fill="none" stroke="#c4c4c4" stroke-width="1.3" stroke-linecap="round" stroke-linejoin="round"/>
<path d="M300.8,493.3 L310.5,491.9 L318.8,500.2 L327.1,504.4 L335.5,503 L340,507" fill="none" stroke="#c4c4c4" stroke-width="1.3" stroke-linecap="round" stroke-linejoin="round"/>
<path d="M320.5,479.5 C316.5,483 314.5,487 314.5,491.5 C314.5,495 316,498 318.5,500" fill="none" stroke="#c4c4c4" stroke-width="1.3" stroke-linecap="round" stroke-linejoin="round"/>
<path d="M333.5,485.5 C330,488.5 328.5,492.5 328.6,497 L330,503.5" fill="none" stroke="#c4c4c4" stroke-width="1.3" stroke-linecap="round" stroke-linejoin="round"/>
<path d="M347.5,489 C343,492.5 340.5,497 340.5,501.5 L341.5,506.5" fill="none" stroke="#c4c4c4" stroke-width="1.3" stroke-linecap="round" stroke-linejoin="round"/>
<path d="M289.7,504.1 L289.7,512.4 A12.5,5.9 0 0 0 314.7,512.4 L314.7,504.1 Z" fill="#262626" stroke="#c4c4c4" stroke-width="1.3"/>
<ellipse cx="302.2" cy="504.1" rx="12.5" ry="5.9" fill="#363636" stroke="#c4c4c4" stroke-width="1.3"/>
</g>
<polygon points="339.2,557.0 375.6,571.6 375.6,542.4 339.2,527.8" fill="#e3e4e6" stroke="#151515" stroke-width="1.50" stroke-linejoin="round" />
<polygon points="375.6,571.6 400.5,551.2 400.5,522.0 375.6,542.4" fill="#f0f1f3" stroke="#151515" stroke-width="1.50" stroke-linejoin="round" />
<polygon points="339.2,527.8 375.6,542.4 400.5,522.0 364.1,507.4" fill="#edeef0" stroke="#151515" stroke-width="1.50" stroke-linejoin="round" />
<polygon points="356.7,515.1 357.0,513.8 357.8,512.6 358.9,511.5 360.4,510.5 362.1,509.6 364.1,509.0 366.3,508.6 368.6,508.3 370.9,508.4 373.1,508.6 375.3,509.1 377.3,509.7 379.1,510.6 380.6,511.6 381.8,512.7 382.6,514.0 383.0,515.3 383.0,516.6 383.0,525.6 382.7,526.9 381.9,528.2 380.8,529.3 379.3,530.3 377.6,531.1 375.6,531.8 373.4,532.2 371.1,532.4 368.8,532.4 366.6,532.1 364.4,531.7 362.4,531.0 360.6,530.2 359.1,529.2 357.9,528.0 357.1,526.8 356.7,525.5 356.7,524.2" fill="#161616" stroke="#121212" stroke-width="1.60" stroke-linejoin="round" />
<polygon points="380.8,520.2 381.9,519.1 382.7,517.9 383.0,516.6 383.0,515.3 382.6,514.0 381.8,512.7 380.6,511.6 379.1,510.6 377.3,509.7 375.3,509.1 373.1,508.6 370.9,508.4 368.6,508.3 366.3,508.6 364.1,509.0 362.1,509.6 360.4,510.5 358.9,511.5 357.8,512.6 357.0,513.8 356.7,515.1 356.7,516.4 357.1,517.7 357.9,519.0 359.1,520.1 360.6,521.1 362.4,522.0 364.4,522.6 366.6,523.1 368.8,523.3 371.1,523.4 373.4,523.1 375.6,522.7 377.6,522.1 379.3,521.2" fill="#e6e6e6" stroke="#121212" stroke-width="1.60" stroke-linejoin="round" />
<polygon points="377.7,519.0 378.5,518.2 379.1,517.3 379.3,516.4 379.3,515.4 379.0,514.5 378.4,513.6 377.6,512.8 376.5,512.1 375.2,511.4 373.8,511.0 372.2,510.6 370.6,510.5 368.9,510.4 367.3,510.6 365.7,510.9 364.3,511.4 363.0,512.0 362.0,512.7 361.2,513.5 360.6,514.4 360.4,515.3 360.4,516.3 360.7,517.2 361.3,518.1 362.1,518.9 363.2,519.6 364.5,520.3 365.9,520.7 367.5,521.1 369.1,521.2 370.8,521.3 372.4,521.1 374.0,520.8 375.4,520.3 376.7,519.7" fill="#121212" stroke="none" stroke-width="0.00" stroke-linejoin="round" />
<polygon points="331.8,565.7 332.1,564.4 332.9,563.2 334.0,562.1 335.5,561.1 337.2,560.3 339.2,559.6 341.4,559.2 343.7,559.0 346.0,559.0 348.2,559.2 350.4,559.7 352.4,560.4 354.2,561.2 355.7,562.2 356.9,563.4 357.7,564.6 358.1,565.9 358.1,567.2 358.1,575.2 357.8,576.5 357.0,577.8 355.9,578.9 354.4,579.9 352.7,580.7 350.7,581.4 348.5,581.8 346.2,582.0 343.9,582.0 341.7,581.7 339.5,581.3 337.5,580.6 335.7,579.8 334.2,578.8 333.0,577.6 332.2,576.4 331.8,575.1 331.8,573.8" fill="#161616" stroke="#121212" stroke-width="1.60" stroke-linejoin="round" />
<polygon points="355.9,570.9 357.0,569.7 357.8,568.5 358.1,567.2 358.1,565.9 357.7,564.6 356.9,563.4 355.7,562.2 354.2,561.2 352.4,560.4 350.4,559.7 348.2,559.2 346.0,559.0 343.7,559.0 341.4,559.2 339.2,559.6 337.2,560.3 335.5,561.1 334.0,562.1 332.9,563.2 332.1,564.4 331.8,565.7 331.8,567.0 332.2,568.3 333.0,569.6 334.2,570.7 335.7,571.7 337.5,572.6 339.5,573.3 341.7,573.7 343.9,574.0 346.2,574.0 348.5,573.8 350.7,573.3 352.7,572.7 354.4,571.8" fill="#398cc2" stroke="#121212" stroke-width="1.60" stroke-linejoin="round" />
<polygon points="350.7,592.0 387.1,606.6 387.1,562.8 350.7,548.2" fill="#c0ab76" stroke="#151515" stroke-width="1.50" stroke-linejoin="round" />
<polygon points="387.1,606.6 461.8,545.4 461.8,501.6 387.1,562.8" fill="#cdb87e" stroke="#151515" stroke-width="1.50" stroke-linejoin="round" />
<polygon points="350.7,548.2 387.1,562.8 461.8,501.6 425.4,487.0" fill="#c9b77e" stroke="#151515" stroke-width="1.50" stroke-linejoin="round" />
<polygon points="418.0,495.7 418.3,494.4 419.1,493.2 420.2,492.1 421.7,491.1 423.4,490.3 425.4,489.6 427.6,489.2 429.9,489.0 432.2,489.0 434.4,489.2 436.6,489.7 438.6,490.3 440.4,491.2 441.9,492.2 443.1,493.4 443.9,494.6 444.3,495.9 444.3,497.2 444.3,505.2 444.0,506.5 443.2,507.8 442.1,508.9 440.6,509.9 438.9,510.7 436.9,511.4 434.7,511.8 432.4,512.0 430.1,512.0 427.9,511.7 425.7,511.3 423.7,510.6 421.9,509.8 420.4,508.8 419.2,507.6 418.4,506.4 418.0,505.1 418.0,503.8" fill="#161616" stroke="#121212" stroke-width="1.60" stroke-linejoin="round" />
<polygon points="442.1,500.8 443.2,499.7 444.0,498.5 444.3,497.2 444.3,495.9 443.9,494.6 443.1,493.4 441.9,492.2 440.4,491.2 438.6,490.3 436.6,489.7 434.4,489.2 432.2,489.0 429.9,489.0 427.6,489.2 425.4,489.6 423.4,490.3 421.7,491.1 420.2,492.1 419.1,493.2 418.3,494.4 418.0,495.7 418.0,497.0 418.4,498.3 419.2,499.6 420.4,500.7 421.9,501.7 423.7,502.6 425.7,503.3 427.9,503.7 430.1,504.0 432.4,504.0 434.7,503.8 436.9,503.3 438.9,502.7 440.6,501.8" fill="#c9b77e" stroke="#121212" stroke-width="1.60" stroke-linejoin="round" />
<polygon points="393.1,516.1 393.4,514.8 394.2,513.6 395.3,512.5 396.8,511.5 398.5,510.7 400.5,510.0 402.7,509.6 405.0,509.4 407.3,509.4 409.5,509.6 411.7,510.1 413.7,510.7 415.5,511.6 417.0,512.6 418.2,513.8 419.0,515.0 419.4,516.3 419.4,517.6 419.4,525.6 419.1,526.9 418.3,528.2 417.2,529.3 415.7,530.3 414.0,531.1 412.0,531.8 409.8,532.2 407.5,532.4 405.2,532.4 403.0,532.1 400.8,531.7 398.8,531.0 397.0,530.2 395.5,529.2 394.3,528.0 393.5,526.8 393.1,525.5 393.1,524.2" fill="#161616" stroke="#121212" stroke-width="1.60" stroke-linejoin="round" />
<polygon points="417.2,521.2 418.3,520.1 419.1,518.9 419.4,517.6 419.4,516.3 419.0,515.0 418.2,513.8 417.0,512.6 415.5,511.6 413.7,510.7 411.7,510.1 409.5,509.6 407.3,509.4 405.0,509.4 402.7,509.6 400.5,510.0 398.5,510.7 396.8,511.5 395.3,512.5 394.2,513.6 393.4,514.8 393.1,516.1 393.1,517.4 393.5,518.7 394.3,520.0 395.5,521.1 397.0,522.1 398.8,523.0 400.8,523.7 403.0,524.1 405.2,524.4 407.5,524.4 409.8,524.2 412.0,523.7 414.0,523.1 415.7,522.2" fill="#c9b77e" stroke="#121212" stroke-width="1.60" stroke-linejoin="round" />
<polygon points="368.2,536.5 368.5,535.2 369.3,534.0 370.4,532.9 371.9,531.9 373.6,531.1 375.6,530.4 377.8,530.0 380.1,529.8 382.4,529.8 384.6,530.0 386.8,530.5 388.8,531.1 390.6,532.0 392.1,533.0 393.3,534.2 394.1,535.4 394.5,536.7 394.5,538.0 394.5,546.0 394.2,547.3 393.4,548.6 392.3,549.7 390.8,550.7 389.1,551.5 387.1,552.2 384.9,552.6 382.6,552.8 380.3,552.8 378.1,552.5 375.9,552.1 373.9,551.4 372.1,550.6 370.6,549.6 369.4,548.4 368.6,547.2 368.2,545.9 368.2,544.6" fill="#161616" stroke="#121212" stroke-width="1.60" stroke-linejoin="round" />
<polygon points="392.3,541.6 393.4,540.5 394.2,539.3 394.5,538.0 394.5,536.7 394.1,535.4 393.3,534.2 392.1,533.0 390.6,532.0 388.8,531.1 386.8,530.5 384.6,530.0 382.4,529.8 380.1,529.8 377.8,530.0 375.6,530.4 373.6,531.1 371.9,531.9 370.4,532.9 369.3,534.0 368.5,535.2 368.2,536.5 368.2,537.8 368.6,539.1 369.4,540.4 370.6,541.5 372.1,542.5 373.9,543.4 375.9,544.1 378.1,544.5 380.3,544.8 382.6,544.8 384.9,544.6 387.1,544.1 389.1,543.5 390.8,542.6" fill="#c9b77e" stroke="#121212" stroke-width="1.60" stroke-linejoin="round" />
<polygon points="161.3,527.7 161.6,526.4 162.4,525.2 163.5,524.1 165.0,523.1 166.7,522.3 168.7,521.6 170.9,521.2 173.2,521.0 175.5,521.0 177.7,521.2 179.9,521.7 181.9,522.3 183.7,523.2 185.2,524.2 186.4,525.4 187.2,526.6 187.6,527.9 187.6,529.2 187.6,537.2 187.3,538.5 186.5,539.8 185.4,540.9 183.9,541.9 182.2,542.7 180.2,543.4 178.0,543.8 175.7,544.0 173.4,544.0 171.2,543.7 169.0,543.3 167.0,542.6 165.2,541.8 163.7,540.8 162.5,539.6 161.7,538.4 161.3,537.1 161.3,535.8" fill="#161616" stroke="#121212" stroke-width="1.60" stroke-linejoin="round" />
<polygon points="185.4,532.8 186.5,531.7 187.3,530.5 187.6,529.2 187.6,527.9 187.2,526.6 186.4,525.4 185.2,524.2 183.7,523.2 181.9,522.3 179.9,521.7 177.7,521.2 175.5,521.0 173.2,521.0 170.9,521.2 168.7,521.6 166.7,522.3 165.0,523.1 163.5,524.1 162.4,525.2 161.6,526.4 161.3,527.7 161.3,529.0 161.7,530.3 162.5,531.6 163.7,532.7 165.2,533.7 167.0,534.6 169.0,535.3 171.2,535.7 173.4,536.0 175.7,536.0 178.0,535.8 180.2,535.3 182.2,534.7 183.9,533.8" fill="#398cc2" stroke="#121212" stroke-width="1.60" stroke-linejoin="round" />
<polygon points="197.7,542.3 198.0,541.0 198.8,539.8 199.9,538.7 201.4,537.7 203.1,536.9 205.1,536.2 207.3,535.8 209.6,535.6 211.9,535.6 214.1,535.8 216.3,536.3 218.3,536.9 220.1,537.8 221.6,538.8 222.8,540.0 223.6,541.2 224.0,542.5 224.0,543.8 224.0,551.8 223.7,553.1 222.9,554.4 221.8,555.5 220.3,556.5 218.6,557.3 216.6,558.0 214.4,558.4 212.1,558.6 209.8,558.6 207.6,558.3 205.4,557.9 203.4,557.2 201.6,556.4 200.1,555.4 198.9,554.2 198.1,553.0 197.7,551.7 197.7,550.4" fill="#161616" stroke="#121212" stroke-width="1.60" stroke-linejoin="round" />
<polygon points="221.8,547.4 222.9,546.3 223.7,545.1 224.0,543.8 224.0,542.5 223.6,541.2 222.8,540.0 221.6,538.8 220.1,537.8 218.3,536.9 216.3,536.3 214.1,535.8 211.9,535.6 209.6,535.6 207.3,535.8 205.1,536.2 203.1,536.9 201.4,537.7 199.9,538.7 198.8,539.8 198.0,541.0 197.7,542.3 197.7,543.6 198.1,544.9 198.9,546.2 200.1,547.3 201.6,548.3 203.4,549.2 205.4,549.9 207.6,550.3 209.8,550.6 212.1,550.6 214.4,550.4 216.6,549.9 218.6,549.3 220.3,548.4" fill="#398cc2" stroke="#121212" stroke-width="1.60" stroke-linejoin="round" />
<polygon points="234.1,556.9 234.4,555.6 235.2,554.4 236.3,553.3 237.8,552.3 239.5,551.5 241.5,550.8 243.7,550.4 246.0,550.2 248.3,550.2 250.5,550.4 252.7,550.9 254.7,551.5 256.5,552.4 258.0,553.4 259.2,554.6 260.0,555.8 260.4,557.1 260.4,558.4 260.4,566.4 260.1,567.7 259.3,569.0 258.2,570.1 256.7,571.1 255.0,571.9 253.0,572.6 250.8,573.0 248.5,573.2 246.2,573.2 244.0,572.9 241.8,572.5 239.8,571.8 238.0,571.0 236.5,570.0 235.3,568.8 234.5,567.6 234.1,566.3 234.1,565.0" fill="#161616" stroke="#121212" stroke-width="1.60" stroke-linejoin="round" />
<polygon points="258.2,562.0 259.3,560.9 260.1,559.7 260.4,558.4 260.4,557.1 260.0,555.8 259.2,554.6 258.0,553.4 256.5,552.4 254.7,551.5 252.7,550.9 250.5,550.4 248.3,550.2 246.0,550.2 243.7,550.4 241.5,550.8 239.5,551.5 237.8,552.3 236.3,553.3 235.2,554.4 234.4,555.6 234.1,556.9 234.1,558.2 234.5,559.5 235.3,560.8 236.5,561.9 238.0,562.9 239.8,563.8 241.8,564.5 244.0,564.9 246.2,565.2 248.5,565.2 250.8,565.0 253.0,564.5 255.0,563.9 256.7,563.0" fill="#398cc2" stroke="#121212" stroke-width="1.60" stroke-linejoin="round" />
<polygon points="270.5,571.5 270.8,570.2 271.6,569.0 272.7,567.9 274.2,566.9 275.9,566.1 277.9,565.4 280.1,565.0 282.4,564.8 284.7,564.8 286.9,565.0 289.1,565.5 291.1,566.1 292.9,567.0 294.4,568.0 295.6,569.2 296.4,570.4 296.8,571.7 296.8,573.0 296.8,581.0 296.5,582.3 295.7,583.6 294.6,584.7 293.1,585.7 291.4,586.5 289.4,587.2 287.2,587.6 284.9,587.8 282.6,587.8 280.4,587.5 278.2,587.1 276.2,586.4 274.4,585.6 272.9,584.6 271.7,583.4 270.9,582.2 270.5,580.9 270.5,579.6" fill="#161616" stroke="#121212" stroke-width="1.60" stroke-linejoin="round" />
<polygon points="294.6,576.6 295.7,575.5 296.5,574.3 296.8,573.0 296.8,571.7 296.4,570.4 295.6,569.2 294.4,568.0 292.9,567.0 291.1,566.1 289.1,565.5 286.9,565.0 284.7,564.8 282.4,564.8 280.1,565.0 277.9,565.4 275.9,566.1 274.2,566.9 272.7,567.9 271.6,569.0 270.8,570.2 270.5,571.5 270.5,572.8 270.9,574.1 271.7,575.4 272.9,576.5 274.4,577.5 276.2,578.4 278.2,579.1 280.4,579.5 282.6,579.8 284.9,579.8 287.2,579.6 289.4,579.1 291.4,578.5 293.1,577.6" fill="#398cc2" stroke="#121212" stroke-width="1.60" stroke-linejoin="round" />
<polygon points="306.9,586.1 307.2,584.8 308.0,583.6 309.1,582.5 310.6,581.5 312.3,580.7 314.3,580.0 316.5,579.6 318.8,579.4 321.1,579.4 323.3,579.6 325.5,580.1 327.5,580.8 329.3,581.6 330.8,582.6 332.0,583.8 332.8,585.0 333.2,586.3 333.2,587.6 333.2,595.6 332.9,596.9 332.1,598.2 331.0,599.3 329.5,600.3 327.8,601.1 325.8,601.8 323.6,602.2 321.3,602.4 319.0,602.4 316.8,602.1 314.6,601.7 312.6,601.0 310.8,600.2 309.3,599.2 308.1,598.0 307.3,596.8 306.9,595.5 306.9,594.2" fill="#161616" stroke="#121212" stroke-width="1.60" stroke-linejoin="round" />
<polygon points="331.0,591.2 332.1,590.1 332.9,588.9 333.2,587.6 333.2,586.3 332.8,585.0 332.0,583.8 330.8,582.6 329.3,581.6 327.5,580.8 325.5,580.1 323.3,579.6 321.1,579.4 318.8,579.4 316.5,579.6 314.3,580.0 312.3,580.7 310.6,581.5 309.1,582.5 308.0,583.6 307.2,584.8 306.9,586.1 306.9,587.4 307.3,588.7 308.1,590.0 309.3,591.1 310.8,592.1 312.6,593.0 314.6,593.7 316.8,594.1 319.0,594.4 321.3,594.4 323.6,594.2 325.8,593.7 327.8,593.1 329.5,592.2" fill="#398cc2" stroke="#121212" stroke-width="1.60" stroke-linejoin="round" />
<polygon points="343.3,600.7 343.6,599.4 344.4,598.2 345.5,597.1 347.0,596.1 348.7,595.3 350.7,594.6 352.9,594.2 355.2,594.0 357.5,594.0 359.7,594.2 361.9,594.7 363.9,595.3 365.7,596.2 367.2,597.2 368.4,598.4 369.2,599.6 369.6,600.9 369.6,602.2 369.6,610.2 369.3,611.5 368.5,612.8 367.4,613.9 365.9,614.9 364.2,615.7 362.2,616.4 360.0,616.8 357.7,617.0 355.4,617.0 353.2,616.7 351.0,616.3 349.0,615.6 347.2,614.8 345.7,613.8 344.5,612.6 343.7,611.4 343.3,610.1 343.3,608.8" fill="#161616" stroke="#121212" stroke-width="1.60" stroke-linejoin="round" />
<polygon points="367.4,605.8 368.5,604.7 369.3,603.5 369.6,602.2 369.6,600.9 369.2,599.6 368.4,598.4 367.2,597.2 365.7,596.2 363.9,595.3 361.9,594.7 359.7,594.2 357.5,594.0 355.2,594.0 352.9,594.2 350.7,594.6 348.7,595.3 347.0,596.1 345.5,597.1 344.4,598.2 343.6,599.4 343.3,600.7 343.3,602.0 343.7,603.3 344.5,604.6 345.7,605.7 347.2,606.7 349.0,607.6 351.0,608.3 353.2,608.7 355.4,609.0 357.7,609.0 360.0,608.8 362.2,608.3 364.2,607.7 365.9,606.8" fill="#398cc2" stroke="#121212" stroke-width="1.60" stroke-linejoin="round" />
<polygon points="642.0,554.0 860.4,641.6 860.4,627.0 642.0,539.4" fill="#378ab9" stroke="#151515" stroke-width="1.50" stroke-linejoin="round" />
<polygon points="860.4,641.6 960.0,560.0 960.0,545.4 860.4,627.0" fill="#3a8dc4" stroke="#151515" stroke-width="1.50" stroke-linejoin="round" />
<polygon points="642.0,539.4 860.4,627.0 960.0,545.4 741.6,457.8" fill="#398cc2" stroke="#151515" stroke-width="1.50" stroke-linejoin="round" />
<polygon points="666.9,519.0 703.3,533.6 703.3,489.8 666.9,475.2" fill="#9a5131" stroke="#151515" stroke-width="1.50" stroke-linejoin="round" />
<polygon points="703.3,533.6 778.0,472.4 778.0,428.6 703.3,489.8" fill="#a25535" stroke="#151515" stroke-width="1.50" stroke-linejoin="round" />
<polygon points="666.9,475.2 703.3,489.8 778.0,428.6 741.6,414.0" fill="#a05435" stroke="#151515" stroke-width="1.50" stroke-linejoin="round" />
<polygon points="666.9,475.2 703.3,489.8 703.3,475.2 666.9,460.6" fill="#e3e4e6" stroke="#151515" stroke-width="1.50" stroke-linejoin="round" />
<polygon points="703.3,489.8 778.0,428.6 778.0,414.0 703.3,475.2" fill="#f0f1f3" stroke="#151515" stroke-width="1.50" stroke-linejoin="round" />
<polygon points="666.9,460.6 703.3,475.2 778.0,414.0 741.6,399.4" fill="#edeef0" stroke="#151515" stroke-width="1.50" stroke-linejoin="round" />
<polygon points="734.2,408.1 734.5,406.8 735.3,405.6 736.4,404.5 737.9,403.5 739.6,402.7 741.6,402.0 743.8,401.6 746.1,401.4 748.4,401.4 750.6,401.6 752.8,402.1 754.8,402.8 756.6,403.6 758.1,404.6 759.3,405.8 760.1,407.0 760.5,408.3 760.5,409.6 760.5,417.6 760.2,418.9 759.4,420.2 758.3,421.3 756.8,422.3 755.1,423.1 753.1,423.8 750.9,424.2 748.6,424.4 746.3,424.4 744.1,424.1 741.9,423.7 739.9,423.0 738.1,422.2 736.6,421.2 735.4,420.0 734.6,418.8 734.2,417.5 734.2,416.2" fill="#161616" stroke="#121212" stroke-width="1.60" stroke-linejoin="round" />
<polygon points="758.3,413.2 759.4,412.1 760.2,410.9 760.5,409.6 760.5,408.3 760.1,407.0 759.3,405.8 758.1,404.6 756.6,403.6 754.8,402.8 752.8,402.1 750.6,401.6 748.4,401.4 746.1,401.4 743.8,401.6 741.6,402.0 739.6,402.7 737.9,403.5 736.4,404.5 735.3,405.6 734.5,406.8 734.2,408.1 734.2,409.4 734.6,410.7 735.4,412.0 736.6,413.1 738.1,414.1 739.9,415.0 741.9,415.7 744.1,416.1 746.3,416.4 748.6,416.4 750.9,416.2 753.1,415.7 755.1,415.1 756.8,414.2" fill="#edeef0" stroke="#121212" stroke-width="1.60" stroke-linejoin="round" />
<polygon points="709.3,428.5 709.6,427.2 710.4,426.0 711.5,424.9 713.0,423.9 714.7,423.1 716.7,422.4 718.9,422.0 721.2,421.8 723.5,421.8 725.7,422.0 727.9,422.5 729.9,423.1 731.7,424.0 733.2,425.0 734.4,426.2 735.2,427.4 735.6,428.7 735.6,430.0 735.6,438.0 735.3,439.3 734.5,440.6 733.4,441.7 731.9,442.7 730.2,443.5 728.2,444.2 726.0,444.6 723.7,444.8 721.4,444.8 719.2,444.5 717.0,444.1 715.0,443.4 713.2,442.6 711.7,441.6 710.5,440.4 709.7,439.2 709.3,437.9 709.3,436.6" fill="#161616" stroke="#121212" stroke-width="1.60" stroke-linejoin="round" />
<polygon points="733.4,433.6 734.5,432.5 735.3,431.3 735.6,430.0 735.6,428.7 735.2,427.4 734.4,426.2 733.2,425.0 731.7,424.0 729.9,423.1 727.9,422.5 725.7,422.0 723.5,421.8 721.2,421.8 718.9,422.0 716.7,422.4 714.7,423.1 713.0,423.9 711.5,424.9 710.4,426.0 709.6,427.2 709.3,428.5 709.3,429.8 709.7,431.1 710.5,432.4 711.7,433.5 713.2,434.5 715.0,435.4 717.0,436.1 719.2,436.5 721.4,436.8 723.7,436.8 726.0,436.6 728.2,436.1 730.2,435.5 731.9,434.6" fill="#edeef0" stroke="#121212" stroke-width="1.60" stroke-linejoin="round" />
<polygon points="684.4,448.9 684.7,447.6 685.5,446.4 686.6,445.3 688.1,444.3 689.8,443.5 691.8,442.8 694.0,442.4 696.3,442.2 698.6,442.2 700.8,442.4 703.0,442.9 705.0,443.5 706.8,444.4 708.3,445.4 709.5,446.6 710.3,447.8 710.7,449.1 710.7,450.4 710.7,458.4 710.4,459.7 709.6,461.0 708.5,462.1 707.0,463.1 705.3,463.9 703.3,464.6 701.1,465.0 698.8,465.2 696.5,465.2 694.3,464.9 692.1,464.5 690.1,463.8 688.3,463.0 686.8,462.0 685.6,460.8 684.8,459.6 684.4,458.3 684.4,457.0" fill="#161616" stroke="#121212" stroke-width="1.60" stroke-linejoin="round" />
<polygon points="708.5,454.0 709.6,452.9 710.4,451.7 710.7,450.4 710.7,449.1 710.3,447.8 709.5,446.6 708.3,445.4 706.8,444.4 705.0,443.5 703.0,442.9 700.8,442.4 698.6,442.2 696.3,442.2 694.0,442.4 691.8,442.8 689.8,443.5 688.1,444.3 686.6,445.3 685.5,446.4 684.7,447.6 684.4,448.9 684.4,450.2 684.8,451.5 685.6,452.8 686.8,453.9 688.3,454.9 690.1,455.8 692.1,456.5 694.3,456.9 696.5,457.2 698.8,457.2 701.1,457.0 703.3,456.5 705.3,455.9 707.0,455.0" fill="#edeef0" stroke="#121212" stroke-width="1.60" stroke-linejoin="round" />
<polygon points="753.1,492.8 898.7,551.2 898.7,536.6 753.1,478.2" fill="#e3e4e6" stroke="#151515" stroke-width="1.50" stroke-linejoin="round" />
<polygon points="898.7,551.2 923.6,530.8 923.6,516.2 898.7,536.6" fill="#f0f1f3" stroke="#151515" stroke-width="1.50" stroke-linejoin="round" />
<polygon points="753.1,478.2 898.7,536.6 923.6,516.2 778.0,457.8" fill="#edeef0" stroke="#151515" stroke-width="1.50" stroke-linejoin="round" />
<polygon points="728.2,513.2 764.6,527.8 764.6,498.6 728.2,484.0" fill="#e3e4e6" stroke="#151515" stroke-width="1.50" stroke-linejoin="round" />
<polygon points="764.6,527.8 789.5,507.4 789.5,478.2 764.6,498.6" fill="#f0f1f3" stroke="#151515" stroke-width="1.50" stroke-linejoin="round" />
<polygon points="728.2,484.0 764.6,498.6 789.5,478.2 753.1,463.6" fill="#edeef0" stroke="#151515" stroke-width="1.50" stroke-linejoin="round" />
<polygon points="764.6,514.7 789.5,494.3 789.5,478.2 789.6,476.2 789.8,474.3 790.2,472.4 790.7,470.7 791.4,469.0 792.3,467.5 793.3,466.0 794.4,464.7 795.6,463.5 797.0,462.4 798.5,461.4 800.2,460.6 801.9,459.9 803.7,459.4 805.7,459.0 807.7,458.7 809.8,458.6 812.0,458.6 814.2,458.8 816.5,459.1 818.8,459.6 821.1,460.2 823.5,461.0 825.9,461.8 801.0,482.2 798.6,481.4 796.2,480.6 793.9,480.0 791.6,479.5 789.3,479.2 787.1,479.0 784.9,479.0 782.8,479.1 780.8,479.4 778.8,479.8 777.0,480.3 775.3,481.0 773.6,481.8 772.1,482.8 770.7,483.9 769.5,485.1 768.4,486.4 767.4,487.9 766.5,489.4 765.8,491.1 765.3,492.8 764.9,494.7 764.7,496.6 764.6,498.6" fill="#f3f3f3" stroke="none" stroke-width="0.00" stroke-linejoin="round" />
<line x1="789.5" y1="493.1" x2="789.5" y2="469.4" stroke="#151515" stroke-width="1.3"/>
<polygon points="720.8,521.9 721.1,520.6 721.9,519.4 723.0,518.3 724.5,517.3 726.2,516.5 728.2,515.8 730.4,515.4 732.7,515.2 735.0,515.2 737.2,515.4 739.4,515.9 741.4,516.5 743.2,517.4 744.7,518.4 745.9,519.6 746.7,520.8 747.1,522.1 747.1,523.4 747.1,531.4 746.8,532.7 746.0,534.0 744.9,535.1 743.4,536.1 741.7,536.9 739.7,537.6 737.5,538.0 735.2,538.2 732.9,538.2 730.7,537.9 728.5,537.5 726.5,536.8 724.7,536.0 723.2,535.0 722.0,533.8 721.2,532.6 720.8,531.3 720.8,530.0" fill="#161616" stroke="#121212" stroke-width="1.60" stroke-linejoin="round" />
<polygon points="744.9,527.0 746.0,525.9 746.8,524.7 747.1,523.4 747.1,522.1 746.7,520.8 745.9,519.6 744.7,518.4 743.2,517.4 741.4,516.5 739.4,515.9 737.2,515.4 735.0,515.2 732.7,515.2 730.4,515.4 728.2,515.8 726.2,516.5 724.5,517.3 723.0,518.3 721.9,519.4 721.1,520.6 720.8,521.9 720.8,523.2 721.2,524.5 722.0,525.8 723.2,526.9 724.7,527.9 726.5,528.8 728.5,529.5 730.7,529.9 732.9,530.2 735.2,530.2 737.5,530.0 739.7,529.5 741.7,528.9 743.4,528.0" fill="#398cc2" stroke="#121212" stroke-width="1.60" stroke-linejoin="round" />
<polygon points="739.7,544.1 812.5,573.3 812.5,563.1 739.7,533.9" fill="#b6d8d0" stroke="#151515" stroke-width="1.30" stroke-linejoin="round" />
<polygon points="812.5,573.3 862.3,532.5 862.3,522.3 812.5,563.1" fill="#b2dbd8" stroke="#151515" stroke-width="1.30" stroke-linejoin="round" />
<polygon points="739.7,533.9 812.5,563.1 862.3,522.3 789.5,493.1" fill="#a2d9e2" stroke="#151515" stroke-width="1.30" stroke-linejoin="round" />
<g transform="translate(498.2,0)">
<path d="M253,534 C252.5,526 254,520 258,518.3 L266,517.6 L271.5,517.2 L291.5,497 L301.5,489.5 L303,484 C303.5,479 306,476 310,475.5 L315,476 C317.5,477 319,479 319.8,481.5 L321.5,480.2 C324.5,479.8 328,480.8 330.5,483 L332.5,486.3 L334.8,485.6 C340,485.5 347,487 350.5,490 C352.5,492.5 353,497 352.5,503 L349.5,509 L340,518 L300,550 C297,553.5 295,555.5 292.4,555.7 L285,555.5 L275,551.5 L265,546.5 L257,543.5 C254.5,541.5 253.2,538.5 253,534 Z" fill="#353535" stroke="#bdbdbd" stroke-width="1.3" stroke-linejoin="round"/>
<path d="M271.6,521 C266.5,525 264,529 264,533 C264,538 264.5,541 265.6,543.6" fill="none" stroke="#c4c4c4" stroke-width="1.3" stroke-linecap="round" stroke-linejoin="round"/>
<path d="M284.8,525.2 C280.5,529 278,533 278,537.7 C278,542.5 279,546 280.3,549" fill="none" stroke="#c4c4c4" stroke-width="1.3" stroke-linecap="round" stroke-linejoin="round"/>
<path d="M298,530.8 C293,535 289.5,539 289.2,543.5 C289,548 290,551.5 291.3,554.6" fill="none" stroke="#c4c4c4" stroke-width="1.3" stroke-linecap="round" stroke-linejoin="round"/>
<path d="M264.7,518.6 L274.4,521.2 L282.7,519.9 L285.5,523.8 L299.4,528 L302.2,532.2" fill="none" stroke="#c4c4c4" stroke-width="1.3" stroke-linecap="round" stroke-linejoin="round"/>
<path d="M278.6,520.5 L283.2,527.2 L288.3,521.5" fill="none" stroke="#c4c4c4" stroke-width="1.3" stroke-linecap="round" stroke-linejoin="round"/>
<path d="M302.2,532.2 L304.9,532.2 L347.9,500.2" fill="none" stroke="#c4c4c4" stroke-width="1.3" stroke-linecap="round" stroke-linejoin="round"/>
<path d="M300.8,493.3 L310.5,491.9 L318.8,500.2 L327.1,504.4 L335.5,503 L340,507" fill="none" stroke="#c4c4c4" stroke-width="1.3" stroke-linecap="round" stroke-linejoin="round"/>
<path d="M320.5,479.5 C316.5,483 314.5,487 314.5,491.5 C314.5,495 316,498 318.5,500" fill="none" stroke="#c4c4c4" stroke-width="1.3" stroke-linecap="round" stroke-linejoin="round"/>
<path d="M333.5,485.5 C330,488.5 328.5,492.5 328.6,497 L330,503.5" fill="none" stroke="#c4c4c4" stroke-width="1.3" stroke-linecap="round" stroke-linejoin="round"/>
<path d="M347.5,489 C343,492.5 340.5,497 340.5,501.5 L341.5,506.5" fill="none" stroke="#c4c4c4" stroke-width="1.3" stroke-linecap="round" stroke-linejoin="round"/>
<path d="M289.7,504.1 L289.7,512.4 A12.5,5.9 0 0 0 314.7,512.4 L314.7,504.1 Z" fill="#262626" stroke="#c4c4c4" stroke-width="1.3"/>
<ellipse cx="302.2" cy="504.1" rx="12.5" ry="5.9" fill="#363636" stroke="#c4c4c4" stroke-width="1.3"/>
</g>
<clipPath id="op25"><polygon points="764.6,498.6 764.9,494.7 765.8,491.1 767.4,487.9 769.5,485.1 772.1,482.8 775.3,481.0 778.8,479.8 782.8,479.1 787.1,479.0 791.6,479.5 796.2,480.6 801.0,482.2 805.8,484.4 810.4,487.1 814.9,490.2 819.2,493.7 823.2,497.5 826.7,501.6 829.9,505.9 832.5,510.4 834.6,514.8 836.2,519.3 837.1,523.6 837.4,527.8"/></clipPath>
<g clip-path="url(#op25)"><g transform="translate(1.20,0)">
<polygon points="789.5,470.0 850.0,470.0 850.0,500.0 833.0,503.5 823.0,506.5 815.0,500.5 808.0,497.5 797.0,496.0 789.5,494.0" fill="#f3f3f3" stroke="none" stroke-width="0.00" stroke-linejoin="round" />
<path d="M803,486 C799.5,489 798.5,494 800,497" fill="none" stroke="#c4c4c4" stroke-width="1.2"/>
<path d="M811,488 C807.5,491 806.5,496 808,499.5" fill="none" stroke="#c4c4c4" stroke-width="1.2"/>
<path d="M820,491 C816.5,494 815.5,499 817,503" fill="none" stroke="#c4c4c4" stroke-width="1.2"/>
<path d="M800,485.5 L806,484.5 L812,487 L820,490 L826,493" fill="none" stroke="#c4c4c4" stroke-width="1.2"/>
<polygon points="801.5,484.8 807.0,484.5 810.5,486.5 806.0,489.5 802.5,489.0" fill="#3a3a3a" stroke="none" stroke-width="0.00" stroke-linejoin="round" />
</g></g>
<polygon points="837.4,557.0 873.8,571.6 873.8,542.4 837.4,527.8" fill="#e3e4e6" stroke="#151515" stroke-width="1.50" stroke-linejoin="round" />
<polygon points="873.8,571.6 898.7,551.2 898.7,522.0 873.8,542.4" fill="#f0f1f3" stroke="#151515" stroke-width="1.50" stroke-linejoin="round" />
<polygon points="837.4,527.8 873.8,542.4 898.7,522.0 862.3,507.4" fill="#edeef0" stroke="#151515" stroke-width="1.50" stroke-linejoin="round" />
<polygon points="830.0,565.7 830.3,564.4 831.1,563.2 832.2,562.1 833.7,561.1 835.4,560.3 837.4,559.6 839.6,559.2 841.9,559.0 844.2,559.0 846.4,559.2 848.6,559.7 850.6,560.4 852.4,561.2 853.9,562.2 855.1,563.4 855.9,564.6 856.3,565.9 856.3,567.2 856.3,575.2 856.0,576.5 855.2,577.8 854.1,578.9 852.6,579.9 850.9,580.7 848.9,581.4 846.7,581.8 844.4,582.0 842.1,582.0 839.9,581.7 837.7,581.3 835.7,580.6 833.9,579.8 832.4,578.8 831.2,577.6 830.4,576.4 830.0,575.1 830.0,573.8" fill="#161616" stroke="#121212" stroke-width="1.60" stroke-linejoin="round" />
<polygon points="854.1,570.9 855.2,569.7 856.0,568.5 856.3,567.2 856.3,565.9 855.9,564.6 855.1,563.4 853.9,562.2 852.4,561.2 850.6,560.4 848.6,559.7 846.4,559.2 844.2,559.0 841.9,559.0 839.6,559.2 837.4,559.6 835.4,560.3 833.7,561.1 832.2,562.1 831.1,563.2 830.3,564.4 830.0,565.7 830.0,567.0 830.4,568.3 831.2,569.6 832.4,570.7 833.9,571.7 835.7,572.6 837.7,573.3 839.9,573.7 842.1,574.0 844.4,574.0 846.7,573.8 848.9,573.3 850.9,572.7 852.6,571.8" fill="#398cc2" stroke="#121212" stroke-width="1.60" stroke-linejoin="round" />
<polygon points="728.2,484.0 764.6,498.6 764.6,498.6 764.9,494.7 765.8,491.1 767.4,487.9 769.5,485.1 772.1,482.8 775.3,481.0 778.8,479.8 782.8,479.1 787.1,479.0 791.6,479.5 796.2,480.6 801.0,482.2 805.8,484.4 810.4,487.1 814.9,490.2 819.2,493.7 823.2,497.5 826.7,501.6 829.9,505.9 832.5,510.4 834.6,514.8 836.2,519.3 837.1,523.6 837.4,527.8 873.8,542.4 873.8,498.6 728.2,440.2" fill="#e3e4e6" stroke="#151515" stroke-width="1.50" stroke-linejoin="round" />
<polygon points="873.8,513.2 898.7,492.8 898.7,478.2 873.8,498.6" fill="#f0f1f3" stroke="#151515" stroke-width="1.50" stroke-linejoin="round" />
<polygon points="728.2,440.2 873.8,498.6 898.7,478.2 753.1,419.8" fill="#edeef0" stroke="#151515" stroke-width="1.50" stroke-linejoin="round" />
<polygon points="745.7,428.5 746.0,427.2 746.8,426.0 747.9,424.9 749.4,423.9 751.1,423.1 753.1,422.4 755.3,422.0 757.6,421.8 759.9,421.8 762.1,422.0 764.3,422.5 766.3,423.1 768.1,424.0 769.6,425.0 770.8,426.2 771.6,427.4 772.0,428.7 772.0,430.0 772.0,438.0 771.7,439.3 770.9,440.6 769.8,441.7 768.3,442.7 766.6,443.5 764.6,444.2 762.4,444.6 760.1,444.8 757.8,444.8 755.6,444.5 753.4,444.1 751.4,443.4 749.6,442.6 748.1,441.6 746.9,440.4 746.1,439.2 745.7,437.9 745.7,436.6" fill="#161616" stroke="#121212" stroke-width="1.60" stroke-linejoin="round" />
<polygon points="769.8,433.6 770.9,432.5 771.7,431.3 772.0,430.0 772.0,428.7 771.6,427.4 770.8,426.2 769.6,425.0 768.1,424.0 766.3,423.1 764.3,422.5 762.1,422.0 759.9,421.8 757.6,421.8 755.3,422.0 753.1,422.4 751.1,423.1 749.4,423.9 747.9,424.9 746.8,426.0 746.0,427.2 745.7,428.5 745.7,429.8 746.1,431.1 746.9,432.4 748.1,433.5 749.6,434.5 751.4,435.4 753.4,436.1 755.6,436.5 757.8,436.8 760.1,436.8 762.4,436.6 764.6,436.1 766.6,435.5 768.3,434.6" fill="#edeef0" stroke="#121212" stroke-width="1.60" stroke-linejoin="round" />
<polygon points="782.1,443.1 782.4,441.8 783.2,440.6 784.3,439.5 785.8,438.5 787.5,437.7 789.5,437.0 791.7,436.6 794.0,436.4 796.3,436.4 798.5,436.6 800.7,437.1 802.7,437.8 804.5,438.6 806.0,439.6 807.2,440.8 808.0,442.0 808.4,443.3 808.4,444.6 808.4,452.6 808.1,453.9 807.3,455.2 806.2,456.3 804.7,457.3 803.0,458.1 801.0,458.8 798.8,459.2 796.5,459.4 794.2,459.4 792.0,459.1 789.8,458.7 787.8,458.0 786.0,457.2 784.5,456.2 783.3,455.0 782.5,453.8 782.1,452.5 782.1,451.2" fill="#161616" stroke="#121212" stroke-width="1.60" stroke-linejoin="round" />
<polygon points="806.2,448.2 807.3,447.1 808.1,445.9 808.4,444.6 808.4,443.3 808.0,442.0 807.2,440.8 806.0,439.6 804.5,438.6 802.7,437.8 800.7,437.1 798.5,436.6 796.3,436.4 794.0,436.4 791.7,436.6 789.5,437.0 787.5,437.7 785.8,438.5 784.3,439.5 783.2,440.6 782.4,441.8 782.1,443.1 782.1,444.4 782.5,445.7 783.3,447.0 784.5,448.1 786.0,449.1 787.8,450.0 789.8,450.7 792.0,451.1 794.2,451.4 796.5,451.4 798.8,451.2 801.0,450.7 803.0,450.1 804.7,449.2" fill="#edeef0" stroke="#121212" stroke-width="1.60" stroke-linejoin="round" />
<polygon points="818.5,457.7 818.8,456.4 819.6,455.2 820.7,454.1 822.2,453.1 823.9,452.3 825.9,451.6 828.1,451.2 830.4,451.0 832.7,451.0 834.9,451.2 837.1,451.7 839.1,452.4 840.9,453.2 842.4,454.2 843.6,455.4 844.4,456.6 844.8,457.9 844.8,459.2 844.8,467.2 844.5,468.5 843.7,469.8 842.6,470.9 841.1,471.9 839.4,472.7 837.4,473.4 835.2,473.8 832.9,474.0 830.6,474.0 828.4,473.7 826.2,473.3 824.2,472.6 822.4,471.8 820.9,470.8 819.7,469.6 818.9,468.4 818.5,467.1 818.5,465.8" fill="#161616" stroke="#121212" stroke-width="1.60" stroke-linejoin="round" />
<polygon points="842.6,462.9 843.7,461.7 844.5,460.5 844.8,459.2 844.8,457.9 844.4,456.6 843.6,455.4 842.4,454.2 840.9,453.2 839.1,452.4 837.1,451.7 834.9,451.2 832.7,451.0 830.4,451.0 828.1,451.2 825.9,451.6 823.9,452.3 822.2,453.1 820.7,454.1 819.6,455.2 818.8,456.4 818.5,457.7 818.5,459.0 818.9,460.3 819.7,461.6 820.9,462.7 822.4,463.7 824.2,464.6 826.2,465.3 828.4,465.7 830.6,466.0 832.9,466.0 835.2,465.8 837.4,465.3 839.4,464.7 841.1,463.8" fill="#edeef0" stroke="#121212" stroke-width="1.60" stroke-linejoin="round" />
<polygon points="854.9,472.3 855.2,471.0 856.0,469.8 857.1,468.7 858.6,467.7 860.3,466.9 862.3,466.2 864.5,465.8 866.8,465.6 869.1,465.6 871.3,465.8 873.5,466.3 875.5,467.0 877.3,467.8 878.8,468.8 880.0,470.0 880.8,471.2 881.2,472.5 881.2,473.8 881.2,481.8 880.9,483.1 880.1,484.4 879.0,485.5 877.5,486.5 875.8,487.3 873.8,488.0 871.6,488.4 869.3,488.6 867.0,488.6 864.8,488.3 862.6,487.9 860.6,487.2 858.8,486.4 857.3,485.4 856.1,484.2 855.3,483.0 854.9,481.7 854.9,480.4" fill="#161616" stroke="#121212" stroke-width="1.60" stroke-linejoin="round" />
<polygon points="879.0,477.5 880.1,476.3 880.9,475.1 881.2,473.8 881.2,472.5 880.8,471.2 880.0,470.0 878.8,468.8 877.3,467.8 875.5,467.0 873.5,466.3 871.3,465.8 869.1,465.6 866.8,465.6 864.5,465.8 862.3,466.2 860.3,466.9 858.6,467.7 857.1,468.7 856.0,469.8 855.2,471.0 854.9,472.3 854.9,473.6 855.3,474.9 856.1,476.2 857.3,477.3 858.8,478.3 860.6,479.2 862.6,479.9 864.8,480.3 867.0,480.6 869.3,480.6 871.6,480.4 873.8,479.9 875.8,479.3 877.5,478.4" fill="#edeef0" stroke="#121212" stroke-width="1.60" stroke-linejoin="round" />
<polygon points="848.9,592.0 885.3,606.6 885.3,562.8 848.9,548.2" fill="#c0ab76" stroke="#151515" stroke-width="1.50" stroke-linejoin="round" />
<polygon points="885.3,606.6 960.0,545.4 960.0,501.6 885.3,562.8" fill="#cdb87e" stroke="#151515" stroke-width="1.50" stroke-linejoin="round" />
<polygon points="848.9,548.2 885.3,562.8 960.0,501.6 923.6,487.0" fill="#c9b77e" stroke="#151515" stroke-width="1.50" stroke-linejoin="round" />
<polygon points="848.9,548.2 885.3,562.8 885.3,548.2 848.9,533.6" fill="#e3e4e6" stroke="#151515" stroke-width="1.50" stroke-linejoin="round" />
<polygon points="885.3,562.8 960.0,501.6 960.0,487.0 885.3,548.2" fill="#f0f1f3" stroke="#151515" stroke-width="1.50" stroke-linejoin="round" />
<polygon points="848.9,533.6 885.3,548.2 960.0,487.0 923.6,472.4" fill="#edeef0" stroke="#151515" stroke-width="1.50" stroke-linejoin="round" />
<polygon points="916.2,481.1 916.5,479.8 917.3,478.6 918.4,477.5 919.9,476.5 921.6,475.7 923.6,475.0 925.8,474.6 928.1,474.4 930.4,474.4 932.6,474.6 934.8,475.1 936.8,475.8 938.6,476.6 940.1,477.6 941.3,478.8 942.1,480.0 942.5,481.3 942.5,482.6 942.5,490.6 942.2,491.9 941.4,493.2 940.3,494.3 938.8,495.3 937.1,496.1 935.1,496.8 932.9,497.2 930.6,497.4 928.3,497.4 926.1,497.1 923.9,496.7 921.9,496.0 920.1,495.2 918.6,494.2 917.4,493.0 916.6,491.8 916.2,490.5 916.2,489.2" fill="#161616" stroke="#121212" stroke-width="1.60" stroke-linejoin="round" />
<polygon points="940.3,486.2 941.4,485.1 942.2,483.9 942.5,482.6 942.5,481.3 942.1,480.0 941.3,478.8 940.1,477.6 938.6,476.6 936.8,475.8 934.8,475.1 932.6,474.6 930.4,474.4 928.1,474.4 925.8,474.6 923.6,475.0 921.6,475.7 919.9,476.5 918.4,477.5 917.3,478.6 916.5,479.8 916.2,481.1 916.2,482.4 916.6,483.7 917.4,485.0 918.6,486.1 920.1,487.1 921.9,488.0 923.9,488.7 926.1,489.1 928.3,489.4 930.6,489.4 932.9,489.2 935.1,488.7 937.1,488.1 938.8,487.2" fill="#edeef0" stroke="#121212" stroke-width="1.60" stroke-linejoin="round" />
<polygon points="891.3,501.5 891.6,500.2 892.4,499.0 893.5,497.9 895.0,496.9 896.7,496.1 898.7,495.4 900.9,495.0 903.2,494.8 905.5,494.8 907.7,495.0 909.9,495.5 911.9,496.1 913.7,497.0 915.2,498.0 916.4,499.2 917.2,500.4 917.6,501.7 917.6,503.0 917.6,511.0 917.3,512.3 916.5,513.6 915.4,514.7 913.9,515.7 912.2,516.5 910.2,517.2 908.0,517.6 905.7,517.8 903.4,517.8 901.2,517.5 899.0,517.1 897.0,516.4 895.2,515.6 893.7,514.6 892.5,513.4 891.7,512.2 891.3,510.9 891.3,509.6" fill="#161616" stroke="#121212" stroke-width="1.60" stroke-linejoin="round" />
<polygon points="915.4,506.6 916.5,505.5 917.3,504.3 917.6,503.0 917.6,501.7 917.2,500.4 916.4,499.2 915.2,498.0 913.7,497.0 911.9,496.1 909.9,495.5 907.7,495.0 905.5,494.8 903.2,494.8 900.9,495.0 898.7,495.4 896.7,496.1 895.0,496.9 893.5,497.9 892.4,499.0 891.6,500.2 891.3,501.5 891.3,502.8 891.7,504.1 892.5,505.4 893.7,506.5 895.2,507.5 897.0,508.4 899.0,509.1 901.2,509.5 903.4,509.8 905.7,509.8 908.0,509.6 910.2,509.1 912.2,508.5 913.9,507.6" fill="#edeef0" stroke="#121212" stroke-width="1.60" stroke-linejoin="round" />
<polygon points="866.4,521.9 866.7,520.6 867.5,519.4 868.6,518.3 870.1,517.3 871.8,516.5 873.8,515.8 876.0,515.4 878.3,515.2 880.6,515.2 882.8,515.4 885.0,515.9 887.0,516.5 888.8,517.4 890.3,518.4 891.5,519.6 892.3,520.8 892.7,522.1 892.7,523.4 892.7,531.4 892.4,532.7 891.6,534.0 890.5,535.1 889.0,536.1 887.3,536.9 885.3,537.6 883.1,538.0 880.8,538.2 878.5,538.2 876.3,537.9 874.1,537.5 872.1,536.8 870.3,536.0 868.8,535.0 867.6,533.8 866.8,532.6 866.4,531.3 866.4,530.0" fill="#161616" stroke="#121212" stroke-width="1.60" stroke-linejoin="round" />
<polygon points="890.5,527.0 891.6,525.9 892.4,524.7 892.7,523.4 892.7,522.1 892.3,520.8 891.5,519.6 890.3,518.4 888.8,517.4 887.0,516.5 885.0,515.9 882.8,515.4 880.6,515.2 878.3,515.2 876.0,515.4 873.8,515.8 871.8,516.5 870.1,517.3 868.6,518.3 867.5,519.4 866.7,520.6 866.4,521.9 866.4,523.2 866.8,524.5 867.6,525.8 868.8,526.9 870.3,527.9 872.1,528.8 874.1,529.5 876.3,529.9 878.5,530.2 880.8,530.2 883.1,530.0 885.3,529.5 887.3,528.9 889.0,528.0" fill="#edeef0" stroke="#121212" stroke-width="1.60" stroke-linejoin="round" />
<polygon points="659.5,527.7 659.8,526.4 660.6,525.2 661.7,524.1 663.2,523.1 664.9,522.3 666.9,521.6 669.1,521.2 671.4,521.0 673.7,521.0 675.9,521.2 678.1,521.7 680.1,522.3 681.9,523.2 683.4,524.2 684.6,525.4 685.4,526.6 685.8,527.9 685.8,529.2 685.8,537.2 685.5,538.5 684.7,539.8 683.6,540.9 682.1,541.9 680.4,542.7 678.4,543.4 676.2,543.8 673.9,544.0 671.6,544.0 669.4,543.7 667.2,543.3 665.2,542.6 663.4,541.8 661.9,540.8 660.7,539.6 659.9,538.4 659.5,537.1 659.5,535.8" fill="#161616" stroke="#121212" stroke-width="1.60" stroke-linejoin="round" />
<polygon points="683.6,532.8 684.7,531.7 685.5,530.5 685.8,529.2 685.8,527.9 685.4,526.6 684.6,525.4 683.4,524.2 681.9,523.2 680.1,522.3 678.1,521.7 675.9,521.2 673.7,521.0 671.4,521.0 669.1,521.2 666.9,521.6 664.9,522.3 663.2,523.1 661.7,524.1 660.6,525.2 659.8,526.4 659.5,527.7 659.5,529.0 659.9,530.3 660.7,531.6 661.9,532.7 663.4,533.7 665.2,534.6 667.2,535.3 669.4,535.7 671.6,536.0 673.9,536.0 676.2,535.8 678.4,535.3 680.4,534.7 682.1,533.8" fill="#398cc2" stroke="#121212" stroke-width="1.60" stroke-linejoin="round" />
<polygon points="695.9,542.3 696.2,541.0 697.0,539.8 698.1,538.7 699.6,537.7 701.3,536.9 703.3,536.2 705.5,535.8 707.8,535.6 710.1,535.6 712.3,535.8 714.5,536.3 716.5,536.9 718.3,537.8 719.8,538.8 721.0,540.0 721.8,541.2 722.2,542.5 722.2,543.8 722.2,551.8 721.9,553.1 721.1,554.4 720.0,555.5 718.5,556.5 716.8,557.3 714.8,558.0 712.6,558.4 710.3,558.6 708.0,558.6 705.8,558.3 703.6,557.9 701.6,557.2 699.8,556.4 698.3,555.4 697.1,554.2 696.3,553.0 695.9,551.7 695.9,550.4" fill="#161616" stroke="#121212" stroke-width="1.60" stroke-linejoin="round" />
<polygon points="720.0,547.4 721.1,546.3 721.9,545.1 722.2,543.8 722.2,542.5 721.8,541.2 721.0,540.0 719.8,538.8 718.3,537.8 716.5,536.9 714.5,536.3 712.3,535.8 710.1,535.6 707.8,535.6 705.5,535.8 703.3,536.2 701.3,536.9 699.6,537.7 698.1,538.7 697.0,539.8 696.2,541.0 695.9,542.3 695.9,543.6 696.3,544.9 697.1,546.2 698.3,547.3 699.8,548.3 701.6,549.2 703.6,549.9 705.8,550.3 708.0,550.6 710.3,550.6 712.6,550.4 714.8,549.9 716.8,549.3 718.5,548.4" fill="#398cc2" stroke="#121212" stroke-width="1.60" stroke-linejoin="round" />
<polygon points="732.3,556.9 732.6,555.6 733.4,554.4 734.5,553.3 736.0,552.3 737.7,551.5 739.7,550.8 741.9,550.4 744.2,550.2 746.5,550.2 748.7,550.4 750.9,550.9 752.9,551.5 754.7,552.4 756.2,553.4 757.4,554.6 758.2,555.8 758.6,557.1 758.6,558.4 758.6,566.4 758.3,567.7 757.5,569.0 756.4,570.1 754.9,571.1 753.2,571.9 751.2,572.6 749.0,573.0 746.7,573.2 744.4,573.2 742.2,572.9 740.0,572.5 738.0,571.8 736.2,571.0 734.7,570.0 733.5,568.8 732.7,567.6 732.3,566.3 732.3,565.0" fill="#161616" stroke="#121212" stroke-width="1.60" stroke-linejoin="round" />
<polygon points="756.4,562.0 757.5,560.9 758.3,559.7 758.6,558.4 758.6,557.1 758.2,555.8 757.4,554.6 756.2,553.4 754.7,552.4 752.9,551.5 750.9,550.9 748.7,550.4 746.5,550.2 744.2,550.2 741.9,550.4 739.7,550.8 737.7,551.5 736.0,552.3 734.5,553.3 733.4,554.4 732.6,555.6 732.3,556.9 732.3,558.2 732.7,559.5 733.5,560.8 734.7,561.9 736.2,562.9 738.0,563.8 740.0,564.5 742.2,564.9 744.4,565.2 746.7,565.2 749.0,565.0 751.2,564.5 753.2,563.9 754.9,563.0" fill="#398cc2" stroke="#121212" stroke-width="1.60" stroke-linejoin="round" />
<polygon points="768.7,571.5 769.0,570.2 769.8,569.0 770.9,567.9 772.4,566.9 774.1,566.1 776.1,565.4 778.3,565.0 780.6,564.8 782.9,564.8 785.1,565.0 787.3,565.5 789.3,566.1 791.1,567.0 792.6,568.0 793.8,569.2 794.6,570.4 795.0,571.7 795.0,573.0 795.0,581.0 794.7,582.3 793.9,583.6 792.8,584.7 791.3,585.7 789.6,586.5 787.6,587.2 785.4,587.6 783.1,587.8 780.8,587.8 778.6,587.5 776.4,587.1 774.4,586.4 772.6,585.6 771.1,584.6 769.9,583.4 769.1,582.2 768.7,580.9 768.7,579.6" fill="#161616" stroke="#121212" stroke-width="1.60" stroke-linejoin="round" />
<polygon points="792.8,576.6 793.9,575.5 794.7,574.3 795.0,573.0 795.0,571.7 794.6,570.4 793.8,569.2 792.6,568.0 791.1,567.0 789.3,566.1 787.3,565.5 785.1,565.0 782.9,564.8 780.6,564.8 778.3,565.0 776.1,565.4 774.1,566.1 772.4,566.9 770.9,567.9 769.8,569.0 769.0,570.2 768.7,571.5 768.7,572.8 769.1,574.1 769.9,575.4 771.1,576.5 772.6,577.5 774.4,578.4 776.4,579.1 778.6,579.5 780.8,579.8 783.1,579.8 785.4,579.6 787.6,579.1 789.6,578.5 791.3,577.6" fill="#398cc2" stroke="#121212" stroke-width="1.60" stroke-linejoin="round" />
<polygon points="805.1,586.1 805.4,584.8 806.2,583.6 807.3,582.5 808.8,581.5 810.5,580.7 812.5,580.0 814.7,579.6 817.0,579.4 819.3,579.4 821.5,579.6 823.7,580.1 825.7,580.8 827.5,581.6 829.0,582.6 830.2,583.8 831.0,585.0 831.4,586.3 831.4,587.6 831.4,595.6 831.1,596.9 830.3,598.2 829.2,599.3 827.7,600.3 826.0,601.1 824.0,601.8 821.8,602.2 819.5,602.4 817.2,602.4 815.0,602.1 812.8,601.7 810.8,601.0 809.0,600.2 807.5,599.2 806.3,598.0 805.5,596.8 805.1,595.5 805.1,594.2" fill="#161616" stroke="#121212" stroke-width="1.60" stroke-linejoin="round" />
<polygon points="829.2,591.2 830.3,590.1 831.1,588.9 831.4,587.6 831.4,586.3 831.0,585.0 830.2,583.8 829.0,582.6 827.5,581.6 825.7,580.8 823.7,580.1 821.5,579.6 819.3,579.4 817.0,579.4 814.7,579.6 812.5,580.0 810.5,580.7 808.8,581.5 807.3,582.5 806.2,583.6 805.4,584.8 805.1,586.1 805.1,587.4 805.5,588.7 806.3,590.0 807.5,591.1 809.0,592.1 810.8,593.0 812.8,593.7 815.0,594.1 817.2,594.4 819.5,594.4 821.8,594.2 824.0,593.7 826.0,593.1 827.7,592.2" fill="#398cc2" stroke="#121212" stroke-width="1.60" stroke-linejoin="round" />
<polygon points="841.5,600.7 841.8,599.4 842.6,598.2 843.7,597.1 845.2,596.1 846.9,595.3 848.9,594.6 851.1,594.2 853.4,594.0 855.7,594.0 857.9,594.2 860.1,594.7 862.1,595.3 863.9,596.2 865.4,597.2 866.6,598.4 867.4,599.6 867.8,600.9 867.8,602.2 867.8,610.2 867.5,611.5 866.7,612.8 865.6,613.9 864.1,614.9 862.4,615.7 860.4,616.4 858.2,616.8 855.9,617.0 853.6,617.0 851.4,616.7 849.2,616.3 847.2,615.6 845.4,614.8 843.9,613.8 842.7,612.6 841.9,611.4 841.5,610.1 841.5,608.8" fill="#161616" stroke="#121212" stroke-width="1.60" stroke-linejoin="round" />
<polygon points="865.6,605.8 866.7,604.7 867.5,603.5 867.8,602.2 867.8,600.9 867.4,599.6 866.6,598.4 865.4,597.2 863.9,596.2 862.1,595.3 860.1,594.7 857.9,594.2 855.7,594.0 853.4,594.0 851.1,594.2 848.9,594.6 846.9,595.3 845.2,596.1 843.7,597.1 842.6,598.2 841.8,599.4 841.5,600.7 841.5,602.0 841.9,603.3 842.7,604.6 843.9,605.7 845.4,606.7 847.2,607.6 849.2,608.3 851.4,608.7 853.6,609.0 855.9,609.0 858.2,608.8 860.4,608.3 862.4,607.7 864.1,606.8" fill="#398cc2" stroke="#121212" stroke-width="1.60" stroke-linejoin="round" />
</svg>
</body></html>
